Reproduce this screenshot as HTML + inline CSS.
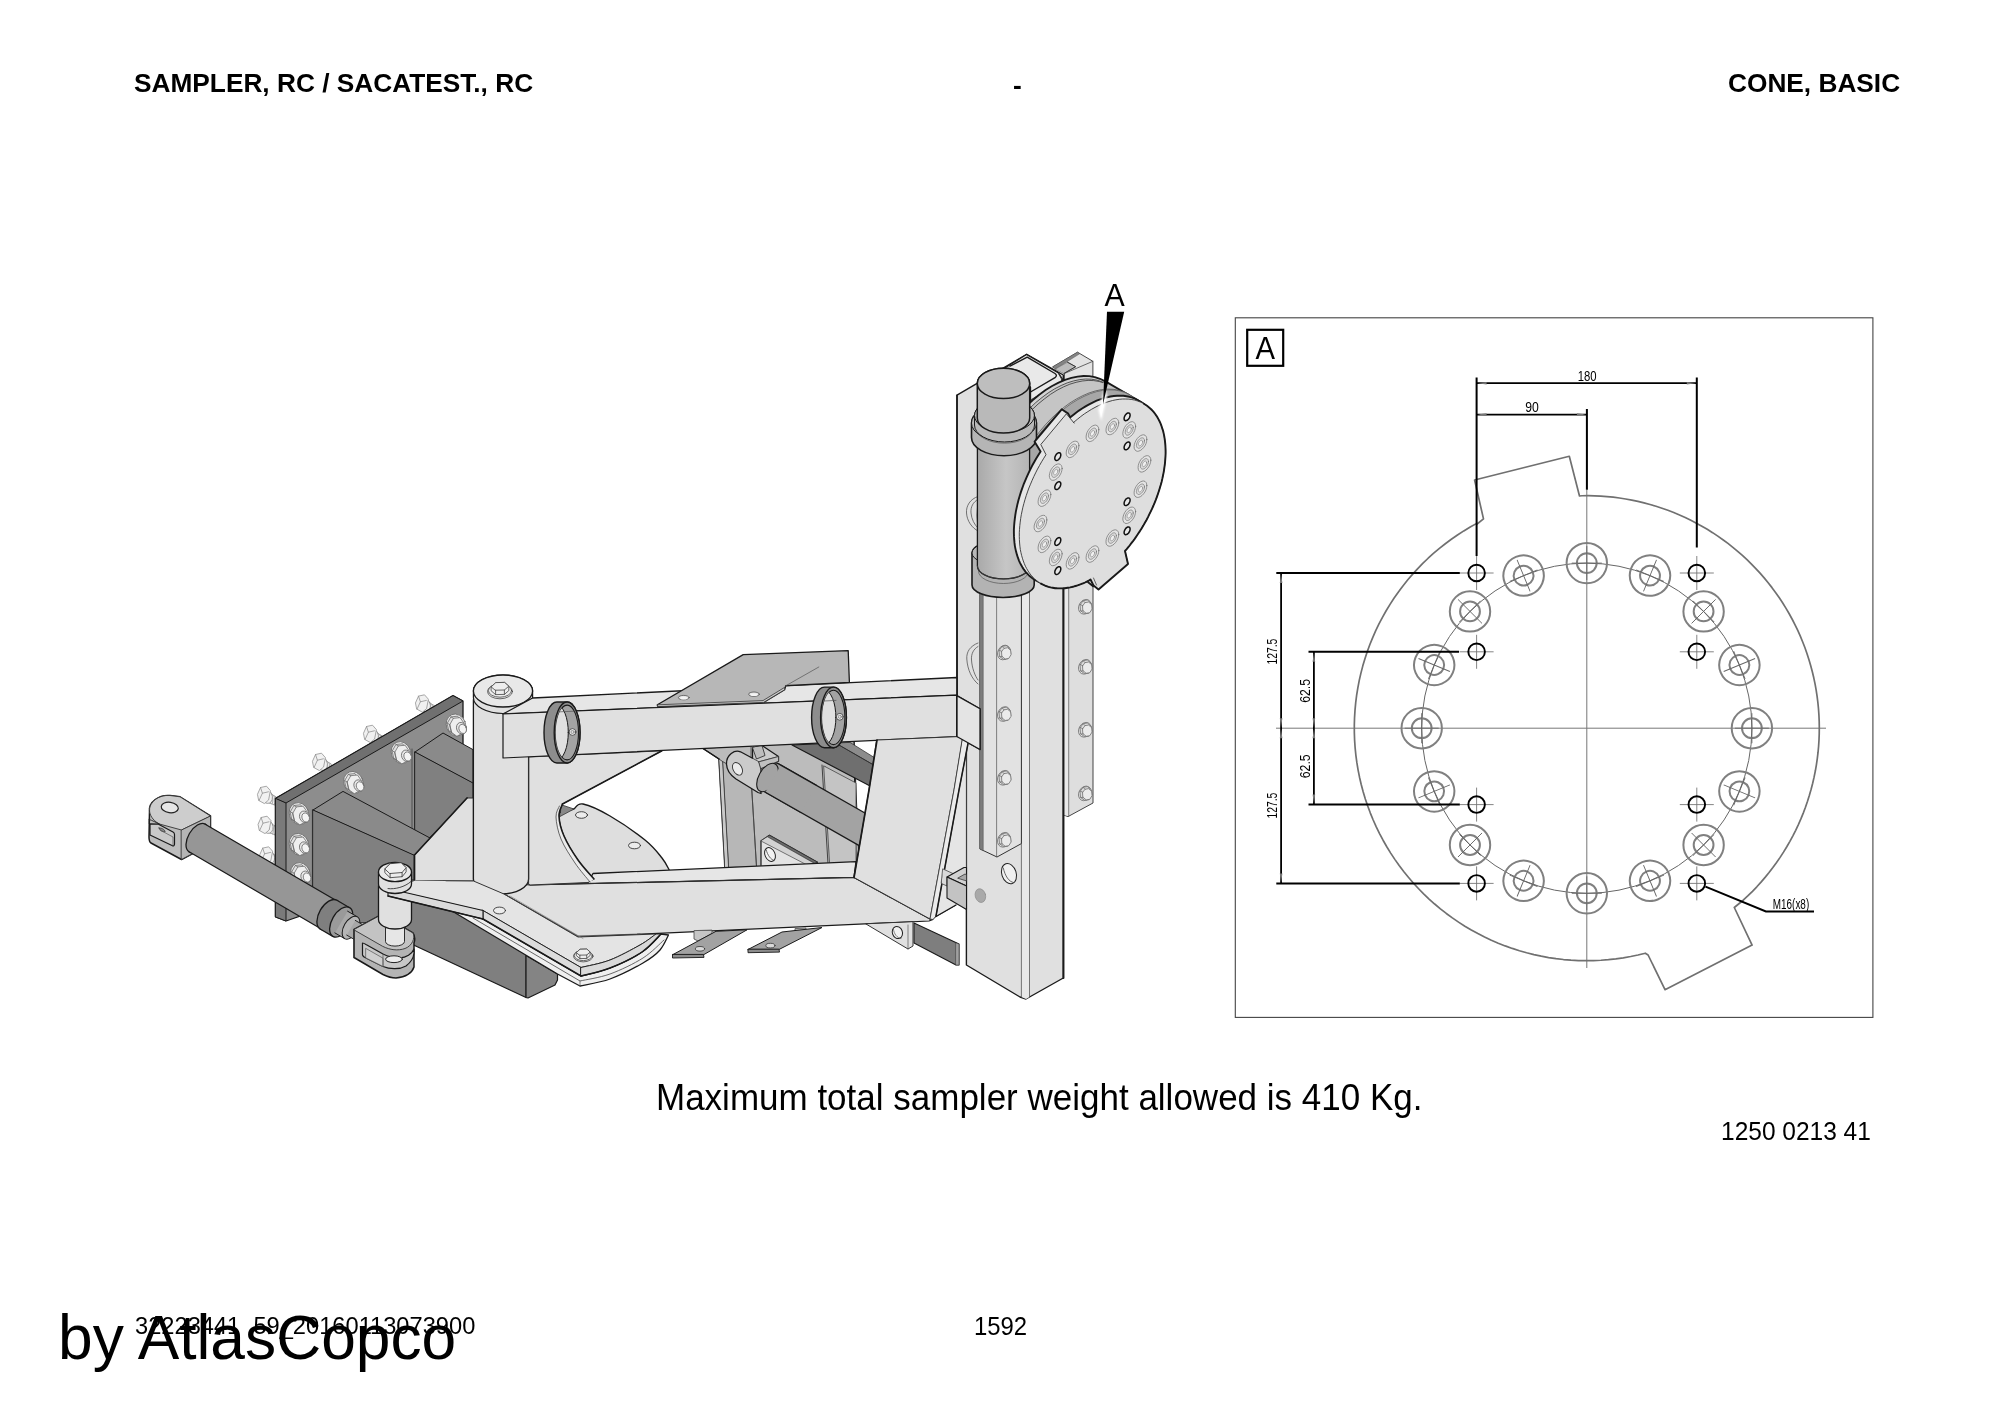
<!DOCTYPE html>
<html><head><meta charset="utf-8"><title>Sampler RC</title>
<style>
html,body{margin:0;padding:0;background:#fff;}
body{width:2000px;height:1414px;position:relative;overflow:hidden;font-family:"Liberation Sans",sans-serif;color:#000;}
.t{position:absolute;white-space:nowrap;line-height:1;will-change:transform;}
#art{will-change:transform;}
#art{position:absolute;left:0;top:0;}
</style></head><body>
<svg id="art" width="2000" height="1414" viewBox="0 0 2000 1414" font-family="Liberation Sans, sans-serif">
<!-- ILLUSTRATION START -->
<g id="illus" stroke-linejoin="round" stroke-linecap="round">
<defs><linearGradient id="gcyl" x1="0" x2="1" y1="0" y2="0"><stop offset="0" stop-color="#a9a9a9"/><stop offset="0.55" stop-color="#c6c6c6"/><stop offset="1" stop-color="#b4b4b4"/></linearGradient><radialGradient id="glow" cx="0.5" cy="0.5" r="0.5"><stop offset="0" stop-color="#fff" stop-opacity="1"/><stop offset="1" stop-color="#fff" stop-opacity="0"/></radialGradient><linearGradient id="gpost" x1="0" x2="1" y1="0" y2="0"><stop offset="0" stop-color="#e6e6e6"/><stop offset="1" stop-color="#dadada"/></linearGradient></defs>
<path d="M1063.5,540 L1093,540 L1093,803 L1068,816.6 L1063.5,815 Z" fill="#dedede" stroke="#444" stroke-width="1.0" />
<path d="M1063.5,540 L1068.7,540 L1068.7,816 L1063.5,815 Z" fill="#e9e9e9" stroke="none" stroke-width="1.1" />
<path d="M1068.7,540 L1068.7,816.2" fill="none" stroke="#555" stroke-width="0.7" />
<path d="M957,395.2 L1026.7,354.3 L1063.3,375 L1063.3,978 L1026,999 L1020,997 L966.4,965 L966.4,743 L957,737 Z" fill="#e0e0e0" stroke="#1a1a1a" stroke-width="1.4" />
<path d="M1021.4,560 L1021.4,997 L1026,999 L1029.5,997 L1029.5,560 Z" fill="#e9e9e9" stroke="none" stroke-width="1.1" />
<path d="M1021.4,560 V997 M1029.5,560 V997" fill="none" stroke="#444" stroke-width="0.7" />
<path d="M957,395.2 L957,737" fill="none" stroke="#1a1a1a" stroke-width="1.6" />
<path d="M1063.5,540 V978" fill="none" stroke="#1a1a1a" stroke-width="1.9" />
<path d="M978,496.5 C970,499 966,506 966.5,513 C967,521 972,528 978,531" fill="none" stroke="#555" stroke-width="0.8" />
<path d="M978,499.5 C973,502 970.5,507 971,513 C971.5,519 974.5,525 978,528" fill="none" stroke="#555" stroke-width="0.8" />
<path d="M978,643 C970,646 966.3,652 966.8,659 C967.5,670 972,679 978,684" fill="none" stroke="#555" stroke-width="0.8" />
<path d="M978,646.5 C973.5,649 971,654 971.5,660 C972,668 975,676 978,680" fill="none" stroke="#555" stroke-width="0.8" />
<path d="M980,560 L980,849 L997,857 L1021.4,843.6 L1021.4,560 Z" fill="#e2e2e2" stroke="#333" stroke-width="1.0" />
<path d="M980,560 L983.2,560 L983.2,850.5 L980,849 Z" fill="#7d7d7d" stroke="#555" stroke-width="0.6" />
<path d="M996.6,560 V856.8" fill="none" stroke="#555" stroke-width="0.7" />
<g transform="translate(1004.6,652.7) rotate(0) scale(0.95)" stroke="#6a6a6a" stroke-width="0.79" fill="#ececec"><ellipse cx="-0.7" cy="-0.2" rx="6.4" ry="8.0" transform="rotate(28 -0.7 -0.2)" fill="#e4e4e4"/><path d="M-5.6,-2.6 L-2.6,-6.6 L1.8,-7.4 L6.0,-4.0 L6.6,1.4 L3.6,6.4 L-0.8,7.2 L-5.0,4.2 Z" fill="#dcdcdc"/><path d="M-3.0,-1.4 L-0.6,-4.6 L3.2,-5.2 L6.4,-2.4 L6.8,2.2 L4.4,6.0 L0.6,6.6 L-2.6,4.0 Z" fill="#ebebeb"/><path d="M-5.6,-2.6 L-3.0,-1.4 M-5.0,4.2 L-2.6,4.0 M-2.6,-6.6 L-0.6,-4.6" fill="none"/></g>
<g transform="translate(1004.6,714.2) rotate(0) scale(0.95)" stroke="#6a6a6a" stroke-width="0.79" fill="#ececec"><ellipse cx="-0.7" cy="-0.2" rx="6.4" ry="8.0" transform="rotate(28 -0.7 -0.2)" fill="#e4e4e4"/><path d="M-5.6,-2.6 L-2.6,-6.6 L1.8,-7.4 L6.0,-4.0 L6.6,1.4 L3.6,6.4 L-0.8,7.2 L-5.0,4.2 Z" fill="#dcdcdc"/><path d="M-3.0,-1.4 L-0.6,-4.6 L3.2,-5.2 L6.4,-2.4 L6.8,2.2 L4.4,6.0 L0.6,6.6 L-2.6,4.0 Z" fill="#ebebeb"/><path d="M-5.6,-2.6 L-3.0,-1.4 M-5.0,4.2 L-2.6,4.0 M-2.6,-6.6 L-0.6,-4.6" fill="none"/></g>
<g transform="translate(1004.6,778.0) rotate(0) scale(0.95)" stroke="#6a6a6a" stroke-width="0.79" fill="#ececec"><ellipse cx="-0.7" cy="-0.2" rx="6.4" ry="8.0" transform="rotate(28 -0.7 -0.2)" fill="#e4e4e4"/><path d="M-5.6,-2.6 L-2.6,-6.6 L1.8,-7.4 L6.0,-4.0 L6.6,1.4 L3.6,6.4 L-0.8,7.2 L-5.0,4.2 Z" fill="#dcdcdc"/><path d="M-3.0,-1.4 L-0.6,-4.6 L3.2,-5.2 L6.4,-2.4 L6.8,2.2 L4.4,6.0 L0.6,6.6 L-2.6,4.0 Z" fill="#ebebeb"/><path d="M-5.6,-2.6 L-3.0,-1.4 M-5.0,4.2 L-2.6,4.0 M-2.6,-6.6 L-0.6,-4.6" fill="none"/></g>
<g transform="translate(1004.6,840.0) rotate(0) scale(0.95)" stroke="#6a6a6a" stroke-width="0.79" fill="#ececec"><ellipse cx="-0.7" cy="-0.2" rx="6.4" ry="8.0" transform="rotate(28 -0.7 -0.2)" fill="#e4e4e4"/><path d="M-5.6,-2.6 L-2.6,-6.6 L1.8,-7.4 L6.0,-4.0 L6.6,1.4 L3.6,6.4 L-0.8,7.2 L-5.0,4.2 Z" fill="#dcdcdc"/><path d="M-3.0,-1.4 L-0.6,-4.6 L3.2,-5.2 L6.4,-2.4 L6.8,2.2 L4.4,6.0 L0.6,6.6 L-2.6,4.0 Z" fill="#ebebeb"/><path d="M-5.6,-2.6 L-3.0,-1.4 M-5.0,4.2 L-2.6,4.0 M-2.6,-6.6 L-0.6,-4.6" fill="none"/></g>
<g transform="translate(1085.6,607.0) rotate(0) scale(0.95)" stroke="#6a6a6a" stroke-width="0.79" fill="#ececec"><ellipse cx="-0.7" cy="-0.2" rx="6.4" ry="8.0" transform="rotate(28 -0.7 -0.2)" fill="#e4e4e4"/><path d="M-5.6,-2.6 L-2.6,-6.6 L1.8,-7.4 L6.0,-4.0 L6.6,1.4 L3.6,6.4 L-0.8,7.2 L-5.0,4.2 Z" fill="#dcdcdc"/><path d="M-3.0,-1.4 L-0.6,-4.6 L3.2,-5.2 L6.4,-2.4 L6.8,2.2 L4.4,6.0 L0.6,6.6 L-2.6,4.0 Z" fill="#ebebeb"/><path d="M-5.6,-2.6 L-3.0,-1.4 M-5.0,4.2 L-2.6,4.0 M-2.6,-6.6 L-0.6,-4.6" fill="none"/></g>
<g transform="translate(1085.6,667.0) rotate(0) scale(0.95)" stroke="#6a6a6a" stroke-width="0.79" fill="#ececec"><ellipse cx="-0.7" cy="-0.2" rx="6.4" ry="8.0" transform="rotate(28 -0.7 -0.2)" fill="#e4e4e4"/><path d="M-5.6,-2.6 L-2.6,-6.6 L1.8,-7.4 L6.0,-4.0 L6.6,1.4 L3.6,6.4 L-0.8,7.2 L-5.0,4.2 Z" fill="#dcdcdc"/><path d="M-3.0,-1.4 L-0.6,-4.6 L3.2,-5.2 L6.4,-2.4 L6.8,2.2 L4.4,6.0 L0.6,6.6 L-2.6,4.0 Z" fill="#ebebeb"/><path d="M-5.6,-2.6 L-3.0,-1.4 M-5.0,4.2 L-2.6,4.0 M-2.6,-6.6 L-0.6,-4.6" fill="none"/></g>
<g transform="translate(1085.6,730.0) rotate(0) scale(0.95)" stroke="#6a6a6a" stroke-width="0.79" fill="#ececec"><ellipse cx="-0.7" cy="-0.2" rx="6.4" ry="8.0" transform="rotate(28 -0.7 -0.2)" fill="#e4e4e4"/><path d="M-5.6,-2.6 L-2.6,-6.6 L1.8,-7.4 L6.0,-4.0 L6.6,1.4 L3.6,6.4 L-0.8,7.2 L-5.0,4.2 Z" fill="#dcdcdc"/><path d="M-3.0,-1.4 L-0.6,-4.6 L3.2,-5.2 L6.4,-2.4 L6.8,2.2 L4.4,6.0 L0.6,6.6 L-2.6,4.0 Z" fill="#ebebeb"/><path d="M-5.6,-2.6 L-3.0,-1.4 M-5.0,4.2 L-2.6,4.0 M-2.6,-6.6 L-0.6,-4.6" fill="none"/></g>
<g transform="translate(1085.6,793.6) rotate(0) scale(0.95)" stroke="#6a6a6a" stroke-width="0.79" fill="#ececec"><ellipse cx="-0.7" cy="-0.2" rx="6.4" ry="8.0" transform="rotate(28 -0.7 -0.2)" fill="#e4e4e4"/><path d="M-5.6,-2.6 L-2.6,-6.6 L1.8,-7.4 L6.0,-4.0 L6.6,1.4 L3.6,6.4 L-0.8,7.2 L-5.0,4.2 Z" fill="#dcdcdc"/><path d="M-3.0,-1.4 L-0.6,-4.6 L3.2,-5.2 L6.4,-2.4 L6.8,2.2 L4.4,6.0 L0.6,6.6 L-2.6,4.0 Z" fill="#ebebeb"/><path d="M-5.6,-2.6 L-3.0,-1.4 M-5.0,4.2 L-2.6,4.0 M-2.6,-6.6 L-0.6,-4.6" fill="none"/></g>
<ellipse cx="1009.0" cy="873.6" rx="7.2" ry="10.4" transform="rotate(-18 1009.0 873.6)" fill="#f1f1f1" stroke="#222" stroke-width="1.0"/>
<path d="M1003.3,868 C1005,876 1009,882 1013.6,882.5" fill="none" stroke="#444" stroke-width="0.8" />
<ellipse cx="980.4" cy="895.6" rx="5.2" ry="7.0" transform="rotate(-15 980.4 895.6)" fill="#a9a9a9" stroke="#888" stroke-width="0.6"/>
<path d="M 1004.0,368.5 L 1026.5,354.5 L 1058.5,373.0 L 1063.0,380.0 L 1063.0,387.0 L 1030.5,404.0 L 1030.5,387.0 Z" fill="#e9e9e9" stroke="#1a1a1a" stroke-width="1.3" />
<path d="M 1010.0,366.2 L 1027.2,357.2 L 1055.0,373.5 Q 1057.8,375.6 1055.0,377.7 L 1030.5,392.0" fill="none" stroke="#1a1a1a" stroke-width="1.4" />
<path d="M 1030.5,400.0 L 1061.5,382.0 L 1061.5,379.0 L 1058.5,373.5" fill="none" stroke="#333" stroke-width="0.9" />
<path d="M1053,366.7 L1077.5,352.2 L1092.9,361.3 L1092.9,376.2 L1064.4,384 L1064.4,373.5 Z" fill="#e3e3e3" stroke="#333" stroke-width="0.9" />
<path d="M1064.4,373.5 L1092.9,361.3" fill="none" stroke="#444" stroke-width="0.8" />
<path d="M1053,366.7 L1077.5,352.2 L1079.6,353.8 L1055.3,369 Z" fill="#848484" stroke="#555" stroke-width="0.5" />
<path d="M1055.3,369 L1067.5,362.2 L1075.7,366.7 L1063.9,373.5 Z" fill="#bcbcbc" stroke="#666" stroke-width="0.6" />
<path d="M1067.5,362.2 L1075.7,366.7 L1063.9,373.5" fill="none" stroke="#333" stroke-width="1.0" />
<path d="M1126.6,429.7 L1126.3,437.4 L1125.5,445.4 L1124.1,453.6 L1122.1,461.9 L1119.6,470.3 L1116.6,478.7 L1113.1,487.1 L1109.2,495.3 L1104.8,503.4 L1100.0,511.3 L1094.8,518.8 L1089.3,526.0 L1083.6,532.8 L1077.6,539.2 L1071.4,545.0 L1065.0,550.3 L1058.6,554.9 L1052.1,559.0 L1045.6,562.4 L1039.2,565.1 L1032.8,567.1 L1026.6,568.4 L1020.6,569.0 L1014.9,568.8 L1009.4,567.9 L1004.2,566.2 L999.4,563.9 L995.0,560.9 L991.1,557.1 L987.6,552.8 L984.6,547.8 L982.1,542.3 L980.1,536.2 L978.7,529.6 L977.9,522.6 L977.6,515.3 L977.9,507.6 L978.7,499.6 L980.1,491.4 L982.1,483.1 L984.6,474.7 L987.6,466.3 L991.1,457.9 L995.0,449.7 L999.4,441.6 L1004.2,433.7 L1009.4,426.2 L1014.9,419.0 L1020.6,412.2 L1026.6,405.8 L1032.8,400.0 L1039.2,394.7 L1045.6,390.1 L1052.1,386.0 L1058.6,382.6 L1065.0,379.9 L1071.4,377.9 L1077.6,376.6 L1083.6,376.0 L1089.3,376.2 L1094.8,377.1 L1100.0,378.8 L1104.8,381.1 L1109.2,384.1 L1113.1,387.9 L1116.6,392.2 L1119.6,397.2 L1122.1,402.7 L1124.1,408.8 L1125.5,415.4 L1126.3,422.4 L1126.6,429.7 Z" fill="#d4d4d4" stroke="#1a1a1a" stroke-width="1.8" />
<path d="M1128.0,431.9 L1127.8,439.5 L1126.9,447.3 L1125.5,455.4 L1123.6,463.6 L1121.2,471.8 L1118.2,480.1 L1114.8,488.4 L1110.9,496.5 L1106.6,504.4 L1101.8,512.2 L1096.8,519.6 L1091.4,526.7 L1085.7,533.4 L1079.8,539.6 L1073.7,545.4 L1067.4,550.5 L1061.1,555.2 L1054.7,559.2 L1048.3,562.5 L1042.0,565.2 L1035.7,567.1 L1029.6,568.4 L1023.7,569.0 L1018.0,568.8 L1012.6,567.9 L1007.6,566.3 L1002.8,564.0 L998.5,561.0 L994.6,557.3 L991.2,553.0 L988.2,548.1 L985.8,542.7 L983.9,536.7 L982.5,530.2 L981.6,523.4 L981.4,516.1 L981.6,508.5 L982.5,500.7 L983.9,492.6 L985.8,484.4 L988.2,476.2 L991.2,467.9 L994.6,459.6 L998.5,451.5 L1002.8,443.6 L1007.6,435.8 L1012.6,428.4 L1018.0,421.3 L1023.7,414.6 L1029.6,408.4 L1035.7,402.6 L1042.0,397.5 L1048.3,392.8 L1054.7,388.8 L1061.1,385.5 L1067.4,382.8 L1073.7,380.9 L1079.8,379.6 L1085.7,379.0 L1091.4,379.2 L1096.8,380.1 L1101.8,381.7 L1106.6,384.0 L1110.9,387.0 L1114.8,390.7 L1118.2,395.0 L1121.2,399.9 L1123.6,405.3 L1125.5,411.3 L1126.9,417.8 L1127.8,424.6 L1128.0,431.9 Z" fill="#c5c5c5" stroke="#333" stroke-width="0.8" />
<path d="M1130.4,433.3 L1130.2,440.9 L1129.3,448.7 L1127.9,456.8 L1126.0,465.0 L1123.6,473.2 L1120.6,481.5 L1117.2,489.8 L1113.3,497.9 L1109.0,505.8 L1104.2,513.6 L1099.2,521.0 L1093.8,528.1 L1088.1,534.8 L1082.2,541.0 L1076.1,546.8 L1069.8,551.9 L1063.5,556.6 L1057.1,560.6 L1050.7,563.9 L1044.4,566.6 L1038.1,568.5 L1032.0,569.8 L1026.1,570.4 L1020.4,570.2 L1015.0,569.3 L1010.0,567.7 L1005.2,565.4 L1000.9,562.4 L997.0,558.7 L993.6,554.4 L990.6,549.5 L988.2,544.1 L986.3,538.1 L984.9,531.6 L984.0,524.8 L983.8,517.5 L984.0,509.9 L984.9,502.1 L986.3,494.0 L988.2,485.8 L990.6,477.6 L993.6,469.3 L997.0,461.0 L1000.9,452.9 L1005.2,445.0 L1010.0,437.2 L1015.0,429.8 L1020.4,422.7 L1026.1,416.0 L1032.0,409.8 L1038.1,404.0 L1044.4,398.9 L1050.7,394.2 L1057.1,390.2 L1063.5,386.9 L1069.8,384.2 L1076.1,382.3 L1082.2,381.0 L1088.1,380.4 L1093.8,380.6 L1099.2,381.5 L1104.2,383.1 L1109.0,385.4 L1113.3,388.4 L1117.2,392.1 L1120.6,396.4 L1123.6,401.3 L1126.0,406.7 L1127.9,412.7 L1129.3,419.2 L1130.2,426.0 L1130.4,433.3 Z" fill="#c5c5c5" stroke="#333" stroke-width="0.8" />
<path d="M1104.5,380.9 L1143.9,403.8 L1092.5,493.7 L1052.1,472.5 Z" fill="#c5c5c5" stroke="none" stroke-width="1.1" />
<path d="M1104.5,380.9 L1143.9,403.8" fill="none" stroke="#1a1a1a" stroke-width="1.8" />
<path d="M1150.0,442.1 L1149.7,449.7 L1148.9,457.6 L1147.5,465.6 L1145.6,473.8 L1143.1,482.1 L1140.1,490.4 L1136.7,498.7 L1132.8,506.8 L1128.4,514.8 L1123.7,522.6 L1118.6,530.0 L1113.2,537.1 L1107.5,543.8 L1101.6,550.1 L1095.5,555.8 L1089.2,561.1 L1082.9,565.7 L1076.5,569.7 L1070.0,573.0 L1063.7,575.7 L1057.4,577.7 L1051.3,579.0 L1045.4,579.5 L1039.7,579.3 L1034.3,578.4 L1029.2,576.8 L1024.5,574.5 L1020.1,571.5 L1016.2,567.8 L1012.8,563.5 L1009.8,558.6 L1007.3,553.2 L1005.4,547.2 L1004.0,540.7 L1003.2,533.8 L1002.9,526.5 L1003.2,518.9 L1004.0,511.0 L1005.4,503.0 L1007.3,494.8 L1009.8,486.5 L1012.8,478.2 L1016.2,469.9 L1020.1,461.8 L1024.5,453.8 L1029.2,446.0 L1034.3,438.6 L1039.7,431.5 L1045.4,424.8 L1051.3,418.5 L1057.4,412.8 L1063.7,407.5 L1070.0,402.9 L1076.5,398.9 L1082.9,395.6 L1089.2,392.9 L1095.5,390.9 L1101.6,389.6 L1107.5,389.1 L1113.2,389.3 L1118.6,390.2 L1123.7,391.8 L1128.4,394.1 L1132.8,397.1 L1136.7,400.8 L1140.1,405.1 L1143.1,410.0 L1145.6,415.4 L1147.5,421.4 L1148.9,427.9 L1149.7,434.8 L1150.0,442.1 Z" fill="#c5c5c5" stroke="#444" stroke-width="0.7" />
<path d="M1151.2,442.8 L1150.9,450.4 L1150.1,458.3 L1148.7,466.3 L1146.8,474.5 L1144.3,482.8 L1141.3,491.1 L1137.9,499.4 L1134.0,507.5 L1129.6,515.5 L1124.9,523.3 L1119.8,530.7 L1114.4,537.8 L1108.7,544.5 L1102.8,550.8 L1096.7,556.5 L1090.4,561.8 L1084.1,566.4 L1077.7,570.4 L1071.2,573.7 L1064.9,576.4 L1058.6,578.4 L1052.5,579.7 L1046.6,580.2 L1040.9,580.0 L1035.5,579.1 L1030.4,577.5 L1025.7,575.2 L1021.3,572.2 L1017.4,568.5 L1014.0,564.2 L1011.0,559.3 L1008.5,553.9 L1006.6,547.9 L1005.2,541.4 L1004.4,534.5 L1004.1,527.2 L1004.4,519.6 L1005.2,511.7 L1006.6,503.7 L1008.5,495.5 L1011.0,487.2 L1014.0,478.9 L1017.4,470.6 L1021.3,462.5 L1025.7,454.5 L1030.4,446.7 L1035.5,439.3 L1040.9,432.2 L1046.6,425.5 L1052.5,419.2 L1058.6,413.5 L1064.9,408.2 L1071.2,403.6 L1077.7,399.6 L1084.1,396.3 L1090.4,393.6 L1096.7,391.6 L1102.8,390.3 L1108.7,389.8 L1114.4,390.0 L1119.8,390.9 L1124.9,392.5 L1129.6,394.8 L1134.0,397.8 L1137.9,401.5 L1141.3,405.8 L1144.3,410.7 L1146.8,416.1 L1148.7,422.1 L1150.1,428.6 L1150.9,435.5 L1151.2,442.8 Z" fill="#a7a7a7" stroke="#555" stroke-width="0.7" />
<path d="M972.0,553.0 L972.0,585.0 A31.1,12.5 0 0 0 1034.2,585.0 L1034.2,553.0 A31.1,12.5 0 0 0 972.0,553.0 Z" fill="#b3b3b3" stroke="#1a1a1a" stroke-width="1.6" />
<ellipse cx="1003.1" cy="553.0" rx="31.1" ry="12.5" fill="#b9b9b9" stroke="#1a1a1a" stroke-width="1.0"/>
<path d="M977.4,440.0 L977.4,566.0 A26.1,13.0 0 0 0 1029.6,566.0 L1029.6,440.0 A26.1,13.0 0 0 0 977.4,440.0 Z" fill="url(#gcyl)" stroke="#1a1a1a" stroke-width="1.3" />
<path d="M977.4,566 A26.1,13 0 0 0 1029.6,566" fill="none" stroke="#444" stroke-width="0.8" />
<path d="M978.5,571.5 A25,12 0 0 0 1028.5,571.5" fill="none" stroke="#555" stroke-width="0.7" />
<path d="M971.5,423.0 L971.5,437.5 A32.5,18.2 0 0 0 1036.5,437.5 L1036.5,423.0 A32.5,18.2 0 0 0 971.5,423.0 Z" fill="#b5b5b5" stroke="#1a1a1a" stroke-width="1.6" />
<ellipse cx="1004.0" cy="423.0" rx="32.5" ry="18.2" fill="#bcbcbc" stroke="#1a1a1a" stroke-width="1.0"/>
<path d="M974.5,415.5 L974.5,425.0 A30.0,17.0 0 0 0 1034.5,425.0 L1034.5,415.5 A30.0,17.0 0 0 0 974.5,415.5 Z" fill="#b9b9b9" stroke="#1a1a1a" stroke-width="1.0" />
<ellipse cx="1004.5" cy="415.5" rx="30.0" ry="17.0" fill="#bdbdbd" stroke="#1a1a1a" stroke-width="1.0"/>
<path d="M975.2,428.5 A29.4,16.6 0 0 0 1033.6,428.5" fill="none" stroke="#555" stroke-width="0.7" />
<path d="M977.3,383.4 L977.3,418.0 A26.2,15.1 0 0 0 1029.7,418.0 L1029.7,383.4 A26.2,15.1 0 0 0 977.3,383.4 Z" fill="#b9b9b9" stroke="#1a1a1a" stroke-width="1.5" />
<ellipse cx="1003.5" cy="383.4" rx="26.2" ry="15.1" fill="#bebebe" stroke="#1a1a1a" stroke-width="1.5"/>
<path d="M1068.5,418.9 L1071.9,416.0 L1075.4,413.2 L1078.9,410.6 L1082.5,408.3 L1086.0,406.1 L1089.6,404.1 L1093.1,402.3 L1096.6,400.7 L1100.2,399.3 L1103.6,398.2 L1107.1,397.2 L1110.5,396.5 L1113.8,396.0 L1117.1,395.7 L1120.3,395.7 L1123.4,395.8 L1126.4,396.2 L1129.4,396.8 L1132.2,397.7 L1134.9,398.7 L1137.6,400.0 L1140.1,401.5 L1142.5,403.1 L1144.7,405.0 L1146.8,407.1 L1148.8,409.4 L1150.6,411.9 L1152.3,414.6 L1153.8,417.4 L1155.2,420.4 L1156.4,423.6 L1157.5,426.9 L1158.3,430.4 L1159.0,434.1 L1159.6,437.8 L1160.0,441.7 L1160.2,445.7 L1160.2,449.8 L1160.0,454.0 L1159.7,458.3 L1159.2,462.7 L1158.6,467.1 L1157.8,471.6 L1156.8,476.1 L1155.6,480.6 L1154.3,485.2 L1152.8,489.8 L1151.2,494.4 L1149.4,499.0 L1147.5,503.6 L1145.4,508.1 L1143.2,512.6 L1140.9,517.0 L1138.4,521.4 L1135.8,525.7 L1133.1,529.9 L1130.3,534.1 L1127.4,538.1 L1124.4,542.0 L1121.3,545.8 L1119.6,547.7 L1122.6,560.7 L1093.1,586.2 L1088.1,582.2 L1085.1,576.2 L1085.1,576.4 L1082.2,577.9 L1079.2,579.3 L1076.3,580.6 L1073.4,581.7 L1070.5,582.6 L1067.6,583.4 L1064.8,584.1 L1062.0,584.6 L1059.2,584.9 L1056.5,585.1 L1053.8,585.1 L1051.2,585.0 L1048.7,584.7 L1046.2,584.3 L1043.8,583.7 L1041.4,583.0 L1039.1,582.1 L1036.9,581.0 L1034.8,579.9 L1032.8,578.5 L1030.9,577.0 L1029.0,575.4 L1027.3,573.7 L1025.6,571.8 L1024.0,569.7 L1022.6,567.6 L1021.3,565.3 L1020.0,562.9 L1018.9,560.3 L1017.9,557.7 L1017.0,554.9 L1016.2,552.1 L1015.5,549.1 L1014.9,546.1 L1014.5,542.9 L1014.2,539.7 L1014.0,536.4 L1013.9,533.0 L1013.9,529.5 L1014.1,526.0 L1014.4,522.4 L1014.8,518.8 L1015.3,515.1 L1015.9,511.4 L1016.7,507.6 L1017.5,503.9 L1018.5,500.1 L1019.6,496.2 L1020.8,492.4 L1022.1,488.6 L1023.5,484.7 L1025.1,480.9 L1026.7,477.1 L1028.4,473.3 L1030.2,469.6 L1032.1,465.8 L1034.1,462.2 L1036.2,458.5 L1038.4,454.9 L1040.6,451.4 L1034.6,441.7 L1061.7,409.3 L1068.2,413.6 L1070.2,417.4 Z" fill="#e7e7e7" stroke="#1a1a1a" stroke-width="1.9" />
<path d="M1073.9,422.2 L1077.3,419.3 L1080.8,416.5 L1084.3,413.9 L1087.9,411.6 L1091.4,409.4 L1095.0,407.4 L1098.5,405.6 L1102.0,404.0 L1105.6,402.6 L1109.0,401.5 L1112.5,400.5 L1115.9,399.8 L1119.2,399.3 L1122.5,399.0 L1125.7,399.0 L1128.8,399.1 L1131.8,399.5 L1134.8,400.1 L1137.6,401.0 L1140.3,402.0 L1143.0,403.3 L1145.5,404.8 L1147.9,406.4 L1150.1,408.3 L1152.2,410.4 L1154.2,412.7 L1156.0,415.2 L1157.7,417.9 L1159.2,420.7 L1160.6,423.7 L1161.8,426.9 L1162.9,430.2 L1163.7,433.7 L1164.4,437.4 L1165.0,441.1 L1165.4,445.0 L1165.6,449.0 L1165.6,453.1 L1165.4,457.3 L1165.1,461.6 L1164.6,466.0 L1164.0,470.4 L1163.2,474.9 L1162.2,479.4 L1161.0,483.9 L1159.7,488.5 L1158.2,493.1 L1156.6,497.7 L1154.8,502.3 L1152.9,506.9 L1150.8,511.4 L1148.6,515.9 L1146.3,520.3 L1143.8,524.7 L1141.2,529.0 L1138.5,533.2 L1135.7,537.4 L1132.8,541.4 L1129.8,545.3 L1126.7,549.1 L1125.0,551.0 L1128.0,564.0 L1098.5,589.5 L1093.5,585.5 L1090.5,579.5 L1090.5,579.7 L1087.6,581.2 L1084.6,582.6 L1081.7,583.9 L1078.8,585.0 L1075.9,585.9 L1073.0,586.7 L1070.2,587.4 L1067.4,587.9 L1064.6,588.2 L1061.9,588.4 L1059.2,588.4 L1056.6,588.3 L1054.1,588.0 L1051.6,587.6 L1049.2,587.0 L1046.8,586.3 L1044.5,585.4 L1042.3,584.3 L1040.2,583.2 L1038.2,581.8 L1036.3,580.3 L1034.4,578.7 L1032.7,577.0 L1031.0,575.1 L1029.4,573.0 L1028.0,570.9 L1026.7,568.6 L1025.4,566.2 L1024.3,563.6 L1023.3,561.0 L1022.4,558.2 L1021.6,555.4 L1020.9,552.4 L1020.3,549.4 L1019.9,546.2 L1019.6,543.0 L1019.4,539.7 L1019.3,536.3 L1019.3,532.8 L1019.5,529.3 L1019.8,525.7 L1020.2,522.1 L1020.7,518.4 L1021.3,514.7 L1022.1,510.9 L1022.9,507.2 L1023.9,503.4 L1025.0,499.5 L1026.2,495.7 L1027.5,491.9 L1028.9,488.0 L1030.5,484.2 L1032.1,480.4 L1033.8,476.6 L1035.6,472.9 L1037.5,469.1 L1039.5,465.5 L1041.6,461.8 L1043.8,458.2 L1046.0,454.7 L1040.8,444.5 L1066.4,413.8 L1074.0,422.9 Z" fill="#dedede" stroke="#333" stroke-width="0.9" />
<path d="M1143.9,403.8 L1145.5,404.8 L1147.0,405.8 L1148.5,407.0 L1150.0,408.2 L1151.4,409.5 L1152.7,410.9 L1154.0,412.4 L1155.2,414.0 L1156.3,415.6 L1157.4,417.3 L1158.4,419.1 L1159.4,421.0 L1160.3,422.9 L1161.1,424.9 L1161.8,427.0 L1162.5,429.1 L1163.2,431.3 L1163.7,433.6 L1164.2,435.9 L1164.6,438.3 L1164.9,440.7 L1165.2,443.2 L1165.4,445.7 L1165.5,448.3 L1165.6,450.9 L1165.6,453.6 L1165.5,456.3 L1165.3,459.0 L1165.1,461.8 L1164.8,464.6 L1164.4,467.4 L1164.0,470.3 L1163.5,473.1 L1162.9,476.0 L1162.3,478.9 L1161.6,481.9 L1160.8,484.8 L1159.9,487.8 L1159.0,490.7 L1158.0,493.7 L1157.0,496.6 L1155.9,499.6 L1154.7,502.6 L1153.5,505.5 L1152.2,508.4 L1150.8,511.3 L1149.4,514.2 L1148.0,517.1 L1146.5,520.0 L1144.9,522.8 L1143.3,525.6 L1141.6,528.4 L1139.9,531.1 L1138.1,533.8 L1136.3,536.5 L1134.5,539.1 L1132.6,541.7 L1130.6,544.2 L1128.7,546.7 L1126.7,549.1 L1125.0,551.0 L1128.0,564.0 L1098.5,589.5 L1093.5,585.5 L1090.5,579.5 L1090.5,579.7 L1089.2,580.4 L1087.8,581.1 L1086.4,581.8 L1085.0,582.5 L1083.7,583.1 L1082.3,583.6 L1080.9,584.2 L1079.6,584.7 L1078.2,585.2 L1076.9,585.6 L1075.5,586.0 L1074.2,586.4 L1072.9,586.8 L1071.5,587.1 L1070.2,587.4 L1068.9,587.6 L1067.6,587.8 L1066.3,588.0 L1065.0,588.2 L1063.8,588.3 L1062.5,588.4 L1061.2,588.4 L1060.0,588.4 L1058.8,588.4 L1057.5,588.4 L1056.3,588.3 L1055.1,588.2 L1054.0,588.0 L1052.8,587.8 L1051.7,587.6 L1050.5,587.4 L1049.4,587.1 L1048.3,586.8 L1047.2,586.4 L1046.1,586.0 L1045.1,585.6 L1044.0,585.1 L1043.0,584.7 L1042.0,584.2 L1041.0,583.6" fill="none" stroke="#1a1a1a" stroke-width="1.9" />
<path d="M1093.5,578 L1096.5,585" fill="none" stroke="#444" stroke-width="0.8" />
<path d="M1098.8,429.7 L1098.6,431.7 L1098.0,433.9 L1096.9,436.0 L1095.6,437.9 L1094.1,439.5 L1092.5,440.7 L1090.8,441.4 L1089.3,441.6 L1088.0,441.1 L1086.9,440.2 L1086.3,438.8 L1086.1,437.0 L1086.3,435.0 L1086.9,432.8 L1088.0,430.7 L1089.3,428.8 L1090.8,427.2 L1092.5,426.0 L1094.1,425.3 L1095.6,425.1 L1096.9,425.6 L1098.0,426.5 L1098.6,427.9 L1098.8,429.7 Z" fill="#e4e4e4" stroke="#6a6a6a" stroke-width="0.7" />
<path d="M1096.5,431.0 L1096.4,432.3 L1096.0,433.7 L1095.3,435.0 L1094.5,436.3 L1093.5,437.3 L1092.5,438.0 L1091.4,438.5 L1090.4,438.6 L1089.6,438.3 L1088.9,437.7 L1088.5,436.8 L1088.4,435.7 L1088.5,434.4 L1088.9,433.0 L1089.6,431.7 L1090.4,430.5 L1091.4,429.4 L1092.5,428.7 L1093.5,428.2 L1094.5,428.1 L1095.3,428.4 L1096.0,429.0 L1096.4,429.9 L1096.5,431.0 Z" fill="#dadada" stroke="#777" stroke-width="0.7" />
<path d="M1094.6,432.1 L1094.5,432.8 L1094.3,433.5 L1093.9,434.2 L1093.5,434.9 L1093.0,435.4 L1092.5,435.8 L1091.9,436.0 L1091.4,436.1 L1091.0,436.0 L1090.6,435.6 L1090.4,435.2 L1090.3,434.6 L1090.4,433.9 L1090.6,433.2 L1091.0,432.5 L1091.4,431.8 L1091.9,431.3 L1092.5,430.9 L1093.0,430.7 L1093.5,430.6 L1093.9,430.8 L1094.3,431.1 L1094.5,431.5 L1094.6,432.1 Z" fill="#f0f0f0" stroke="#888" stroke-width="0.7" />
<path d="M1118.7,422.9 L1118.5,424.9 L1117.8,427.1 L1116.8,429.2 L1115.5,431.1 L1114.0,432.7 L1112.3,433.9 L1110.7,434.6 L1109.2,434.7 L1107.8,434.3 L1106.8,433.4 L1106.2,432.0 L1106.0,430.2 L1106.2,428.1 L1106.8,426.0 L1107.8,423.9 L1109.2,422.0 L1110.7,420.4 L1112.3,419.2 L1114.0,418.5 L1115.5,418.3 L1116.8,418.7 L1117.8,419.7 L1118.5,421.1 L1118.7,422.9 Z" fill="#e4e4e4" stroke="#6a6a6a" stroke-width="0.7" />
<path d="M1116.4,424.2 L1116.2,425.5 L1115.8,426.9 L1115.2,428.2 L1114.4,429.4 L1113.4,430.5 L1112.3,431.2 L1111.3,431.7 L1110.3,431.8 L1109.5,431.5 L1108.8,430.9 L1108.4,430.0 L1108.3,428.9 L1108.4,427.6 L1108.8,426.2 L1109.5,424.9 L1110.3,423.6 L1111.3,422.6 L1112.3,421.8 L1113.4,421.4 L1114.4,421.3 L1115.2,421.6 L1115.8,422.2 L1116.2,423.1 L1116.4,424.2 Z" fill="#dadada" stroke="#777" stroke-width="0.7" />
<path d="M1114.5,425.3 L1114.4,426.0 L1114.2,426.7 L1113.8,427.4 L1113.4,428.1 L1112.9,428.6 L1112.3,429.0 L1111.8,429.2 L1111.3,429.3 L1110.8,429.1 L1110.5,428.8 L1110.3,428.3 L1110.2,427.7 L1110.3,427.1 L1110.5,426.4 L1110.8,425.7 L1111.3,425.0 L1111.8,424.5 L1112.3,424.1 L1112.9,423.8 L1113.4,423.8 L1113.8,423.9 L1114.2,424.2 L1114.4,424.7 L1114.5,425.3 Z" fill="#f0f0f0" stroke="#888" stroke-width="0.7" />
<path d="M1135.6,426.3 L1135.3,428.3 L1134.7,430.5 L1133.7,432.6 L1132.4,434.5 L1130.8,436.1 L1129.2,437.3 L1127.6,438.0 L1126.0,438.1 L1124.7,437.7 L1123.7,436.8 L1123.1,435.4 L1122.8,433.6 L1123.1,431.5 L1123.7,429.4 L1124.7,427.3 L1126.0,425.4 L1127.6,423.8 L1129.2,422.6 L1130.8,421.9 L1132.4,421.7 L1133.7,422.1 L1134.7,423.1 L1135.3,424.5 L1135.6,426.3 Z" fill="#e4e4e4" stroke="#6a6a6a" stroke-width="0.7" />
<path d="M1133.2,427.6 L1133.1,428.9 L1132.7,430.3 L1132.1,431.6 L1131.2,432.8 L1130.2,433.9 L1129.2,434.6 L1128.2,435.1 L1127.2,435.2 L1126.3,434.9 L1125.7,434.3 L1125.3,433.4 L1125.2,432.3 L1125.3,431.0 L1125.7,429.6 L1126.3,428.3 L1127.2,427.0 L1128.2,426.0 L1129.2,425.2 L1130.2,424.8 L1131.2,424.7 L1132.1,425.0 L1132.7,425.6 L1133.1,426.5 L1133.2,427.6 Z" fill="#dadada" stroke="#777" stroke-width="0.7" />
<path d="M1131.3,428.7 L1131.2,429.4 L1131.0,430.1 L1130.7,430.8 L1130.3,431.5 L1129.7,432.0 L1129.2,432.4 L1128.7,432.6 L1128.1,432.7 L1127.7,432.5 L1127.4,432.2 L1127.2,431.7 L1127.1,431.1 L1127.2,430.5 L1127.4,429.8 L1127.7,429.1 L1128.1,428.4 L1128.7,427.9 L1129.2,427.5 L1129.7,427.2 L1130.3,427.2 L1130.7,427.3 L1131.0,427.7 L1131.2,428.1 L1131.3,428.7 Z" fill="#f0f0f0" stroke="#888" stroke-width="0.7" />
<path d="M1146.8,439.4 L1146.6,441.4 L1146.0,443.6 L1145.0,445.7 L1143.6,447.6 L1142.1,449.2 L1140.5,450.4 L1138.8,451.1 L1137.3,451.3 L1136.0,450.8 L1135.0,449.9 L1134.3,448.5 L1134.1,446.7 L1134.3,444.7 L1135.0,442.5 L1136.0,440.4 L1137.3,438.5 L1138.8,436.9 L1140.5,435.7 L1142.1,435.0 L1143.6,434.8 L1145.0,435.2 L1146.0,436.2 L1146.6,437.6 L1146.8,439.4 Z" fill="#e4e4e4" stroke="#6a6a6a" stroke-width="0.7" />
<path d="M1144.5,440.7 L1144.4,442.0 L1144.0,443.4 L1143.3,444.7 L1142.5,445.9 L1141.5,447.0 L1140.5,447.7 L1139.4,448.2 L1138.4,448.3 L1137.6,448.0 L1137.0,447.4 L1136.6,446.5 L1136.4,445.4 L1136.6,444.1 L1137.0,442.7 L1137.6,441.4 L1138.4,440.1 L1139.4,439.1 L1140.5,438.3 L1141.5,437.9 L1142.5,437.8 L1143.3,438.1 L1144.0,438.7 L1144.4,439.6 L1144.5,440.7 Z" fill="#dadada" stroke="#777" stroke-width="0.7" />
<path d="M1142.6,441.8 L1142.5,442.5 L1142.3,443.2 L1142.0,443.9 L1141.5,444.6 L1141.0,445.1 L1140.5,445.5 L1139.9,445.7 L1139.4,445.8 L1139.0,445.6 L1138.6,445.3 L1138.4,444.9 L1138.4,444.3 L1138.4,443.6 L1138.6,442.9 L1139.0,442.2 L1139.4,441.5 L1139.9,441.0 L1140.5,440.6 L1141.0,440.4 L1141.5,440.3 L1142.0,440.4 L1142.3,440.8 L1142.5,441.2 L1142.6,441.8 Z" fill="#f0f0f0" stroke="#888" stroke-width="0.7" />
<path d="M1150.8,460.2 L1150.6,462.3 L1149.9,464.4 L1148.9,466.5 L1147.6,468.4 L1146.1,470.0 L1144.4,471.2 L1142.8,471.9 L1141.2,472.1 L1139.9,471.7 L1138.9,470.7 L1138.3,469.3 L1138.1,467.5 L1138.3,465.5 L1138.9,463.3 L1139.9,461.2 L1141.2,459.3 L1142.8,457.7 L1144.4,456.5 L1146.1,455.8 L1147.6,455.7 L1148.9,456.1 L1149.9,457.0 L1150.6,458.4 L1150.8,460.2 Z" fill="#e4e4e4" stroke="#6a6a6a" stroke-width="0.7" />
<path d="M1148.5,461.5 L1148.3,462.8 L1147.9,464.2 L1147.3,465.5 L1146.4,466.8 L1145.5,467.8 L1144.4,468.6 L1143.4,469.0 L1142.4,469.1 L1141.6,468.8 L1140.9,468.2 L1140.5,467.3 L1140.4,466.2 L1140.5,464.9 L1140.9,463.5 L1141.6,462.2 L1142.4,461.0 L1143.4,459.9 L1144.4,459.2 L1145.5,458.7 L1146.4,458.6 L1147.3,458.9 L1147.9,459.5 L1148.3,460.4 L1148.5,461.5 Z" fill="#dadada" stroke="#777" stroke-width="0.7" />
<path d="M1146.5,462.6 L1146.5,463.3 L1146.3,464.0 L1145.9,464.7 L1145.5,465.4 L1145.0,465.9 L1144.4,466.3 L1143.9,466.6 L1143.4,466.6 L1142.9,466.5 L1142.6,466.1 L1142.4,465.7 L1142.3,465.1 L1142.4,464.4 L1142.6,463.7 L1142.9,463.0 L1143.4,462.3 L1143.9,461.8 L1144.4,461.4 L1145.0,461.2 L1145.5,461.1 L1145.9,461.3 L1146.3,461.6 L1146.5,462.1 L1146.5,462.6 Z" fill="#f0f0f0" stroke="#888" stroke-width="0.7" />
<path d="M1146.8,485.6 L1146.6,487.6 L1146.0,489.8 L1145.0,491.9 L1143.6,493.8 L1142.1,495.4 L1140.5,496.6 L1138.8,497.3 L1137.3,497.4 L1136.0,497.0 L1135.0,496.1 L1134.3,494.7 L1134.1,492.9 L1134.3,490.8 L1135.0,488.7 L1136.0,486.6 L1137.3,484.7 L1138.8,483.0 L1140.5,481.9 L1142.1,481.2 L1143.6,481.0 L1145.0,481.4 L1146.0,482.4 L1146.6,483.8 L1146.8,485.6 Z" fill="#e4e4e4" stroke="#6a6a6a" stroke-width="0.7" />
<path d="M1144.5,486.9 L1144.4,488.2 L1144.0,489.6 L1143.3,490.9 L1142.5,492.1 L1141.5,493.2 L1140.5,493.9 L1139.4,494.4 L1138.4,494.5 L1137.6,494.2 L1137.0,493.6 L1136.6,492.7 L1136.4,491.5 L1136.6,490.3 L1137.0,488.9 L1137.6,487.6 L1138.4,486.3 L1139.4,485.3 L1140.5,484.5 L1141.5,484.1 L1142.5,484.0 L1143.3,484.3 L1144.0,484.9 L1144.4,485.8 L1144.5,486.9 Z" fill="#dadada" stroke="#777" stroke-width="0.7" />
<path d="M1142.6,488.0 L1142.5,488.7 L1142.3,489.4 L1142.0,490.1 L1141.5,490.8 L1141.0,491.3 L1140.5,491.7 L1139.9,491.9 L1139.4,492.0 L1139.0,491.8 L1138.6,491.5 L1138.4,491.0 L1138.4,490.4 L1138.4,489.8 L1138.6,489.1 L1139.0,488.4 L1139.4,487.7 L1139.9,487.2 L1140.5,486.8 L1141.0,486.5 L1141.5,486.5 L1142.0,486.6 L1142.3,486.9 L1142.5,487.4 L1142.6,488.0 Z" fill="#f0f0f0" stroke="#888" stroke-width="0.7" />
<path d="M1135.6,511.6 L1135.3,513.7 L1134.7,515.8 L1133.7,517.9 L1132.4,519.8 L1130.8,521.5 L1129.2,522.6 L1127.6,523.3 L1126.0,523.5 L1124.7,523.1 L1123.7,522.1 L1123.1,520.7 L1122.8,518.9 L1123.1,516.9 L1123.7,514.7 L1124.7,512.6 L1126.0,510.7 L1127.6,509.1 L1129.2,507.9 L1130.8,507.2 L1132.4,507.1 L1133.7,507.5 L1134.7,508.4 L1135.3,509.8 L1135.6,511.6 Z" fill="#e4e4e4" stroke="#6a6a6a" stroke-width="0.7" />
<path d="M1133.2,513.0 L1133.1,514.2 L1132.7,515.6 L1132.1,517.0 L1131.2,518.2 L1130.2,519.2 L1129.2,520.0 L1128.2,520.4 L1127.2,520.5 L1126.3,520.2 L1125.7,519.6 L1125.3,518.7 L1125.2,517.6 L1125.3,516.3 L1125.7,514.9 L1126.3,513.6 L1127.2,512.4 L1128.2,511.3 L1129.2,510.6 L1130.2,510.1 L1131.2,510.0 L1132.1,510.3 L1132.7,510.9 L1133.1,511.8 L1133.2,513.0 Z" fill="#dadada" stroke="#777" stroke-width="0.7" />
<path d="M1131.3,514.1 L1131.2,514.7 L1131.0,515.5 L1130.7,516.2 L1130.3,516.8 L1129.7,517.3 L1129.2,517.7 L1128.7,518.0 L1128.1,518.0 L1127.7,517.9 L1127.4,517.6 L1127.2,517.1 L1127.1,516.5 L1127.2,515.8 L1127.4,515.1 L1127.7,514.4 L1128.1,513.8 L1128.7,513.2 L1129.2,512.8 L1129.7,512.6 L1130.3,512.5 L1130.7,512.7 L1131.0,513.0 L1131.2,513.5 L1131.3,514.1 Z" fill="#f0f0f0" stroke="#888" stroke-width="0.7" />
<path d="M1118.7,534.4 L1118.5,536.4 L1117.8,538.6 L1116.8,540.7 L1115.5,542.6 L1114.0,544.2 L1112.3,545.4 L1110.7,546.1 L1109.2,546.2 L1107.8,545.8 L1106.8,544.9 L1106.2,543.5 L1106.0,541.7 L1106.2,539.6 L1106.8,537.5 L1107.8,535.4 L1109.2,533.5 L1110.7,531.9 L1112.3,530.7 L1114.0,530.0 L1115.5,529.8 L1116.8,530.2 L1117.8,531.2 L1118.5,532.6 L1118.7,534.4 Z" fill="#e4e4e4" stroke="#6a6a6a" stroke-width="0.7" />
<path d="M1116.4,535.7 L1116.2,537.0 L1115.8,538.4 L1115.2,539.7 L1114.4,540.9 L1113.4,542.0 L1112.3,542.7 L1111.3,543.2 L1110.3,543.3 L1109.5,543.0 L1108.8,542.4 L1108.4,541.5 L1108.3,540.4 L1108.4,539.1 L1108.8,537.7 L1109.5,536.4 L1110.3,535.1 L1111.3,534.1 L1112.3,533.3 L1113.4,532.9 L1114.4,532.8 L1115.2,533.1 L1115.8,533.7 L1116.2,534.6 L1116.4,535.7 Z" fill="#dadada" stroke="#777" stroke-width="0.7" />
<path d="M1114.5,536.8 L1114.4,537.5 L1114.2,538.2 L1113.8,538.9 L1113.4,539.6 L1112.9,540.1 L1112.3,540.5 L1111.8,540.7 L1111.3,540.8 L1110.8,540.6 L1110.5,540.3 L1110.3,539.8 L1110.2,539.2 L1110.3,538.6 L1110.5,537.9 L1110.8,537.2 L1111.3,536.5 L1111.8,536.0 L1112.3,535.6 L1112.9,535.3 L1113.4,535.3 L1113.8,535.4 L1114.2,535.8 L1114.4,536.2 L1114.5,536.8 Z" fill="#f0f0f0" stroke="#888" stroke-width="0.7" />
<path d="M1098.8,550.4 L1098.6,552.4 L1098.0,554.6 L1096.9,556.7 L1095.6,558.6 L1094.1,560.2 L1092.5,561.4 L1090.8,562.1 L1089.3,562.3 L1088.0,561.8 L1086.9,560.9 L1086.3,559.5 L1086.1,557.7 L1086.3,555.7 L1086.9,553.5 L1088.0,551.4 L1089.3,549.5 L1090.8,547.9 L1092.5,546.7 L1094.1,546.0 L1095.6,545.8 L1096.9,546.3 L1098.0,547.2 L1098.6,548.6 L1098.8,550.4 Z" fill="#e4e4e4" stroke="#6a6a6a" stroke-width="0.7" />
<path d="M1096.5,551.7 L1096.4,553.0 L1096.0,554.4 L1095.3,555.7 L1094.5,556.9 L1093.5,558.0 L1092.5,558.7 L1091.4,559.2 L1090.4,559.3 L1089.6,559.0 L1088.9,558.4 L1088.5,557.5 L1088.4,556.4 L1088.5,555.1 L1088.9,553.7 L1089.6,552.4 L1090.4,551.1 L1091.4,550.1 L1092.5,549.4 L1093.5,548.9 L1094.5,548.8 L1095.3,549.1 L1096.0,549.7 L1096.4,550.6 L1096.5,551.7 Z" fill="#dadada" stroke="#777" stroke-width="0.7" />
<path d="M1094.6,552.8 L1094.5,553.5 L1094.3,554.2 L1093.9,554.9 L1093.5,555.6 L1093.0,556.1 L1092.5,556.5 L1091.9,556.7 L1091.4,556.8 L1091.0,556.6 L1090.6,556.3 L1090.4,555.9 L1090.3,555.3 L1090.4,554.6 L1090.6,553.9 L1091.0,553.2 L1091.4,552.5 L1091.9,552.0 L1092.5,551.6 L1093.0,551.4 L1093.5,551.3 L1093.9,551.4 L1094.3,551.8 L1094.5,552.2 L1094.6,552.8 Z" fill="#f0f0f0" stroke="#888" stroke-width="0.7" />
<path d="M1078.9,557.2 L1078.7,559.3 L1078.1,561.4 L1077.1,563.5 L1075.7,565.4 L1074.2,567.0 L1072.6,568.2 L1070.9,568.9 L1069.4,569.1 L1068.1,568.7 L1067.1,567.7 L1066.4,566.3 L1066.2,564.5 L1066.4,562.5 L1067.1,560.3 L1068.1,558.2 L1069.4,556.3 L1070.9,554.7 L1072.6,553.5 L1074.2,552.8 L1075.7,552.7 L1077.1,553.1 L1078.1,554.0 L1078.7,555.4 L1078.9,557.2 Z" fill="#e4e4e4" stroke="#6a6a6a" stroke-width="0.7" />
<path d="M1076.6,558.5 L1076.5,559.8 L1076.1,561.2 L1075.4,562.5 L1074.6,563.8 L1073.6,564.8 L1072.6,565.6 L1071.5,566.0 L1070.5,566.1 L1069.7,565.8 L1069.1,565.2 L1068.7,564.3 L1068.5,563.2 L1068.7,561.9 L1069.1,560.5 L1069.7,559.2 L1070.5,558.0 L1071.5,556.9 L1072.6,556.2 L1073.6,555.7 L1074.6,555.6 L1075.4,555.9 L1076.1,556.5 L1076.5,557.4 L1076.6,558.5 Z" fill="#dadada" stroke="#777" stroke-width="0.7" />
<path d="M1074.7,559.7 L1074.6,560.3 L1074.4,561.0 L1074.1,561.7 L1073.6,562.4 L1073.1,562.9 L1072.6,563.3 L1072.0,563.6 L1071.5,563.6 L1071.1,563.5 L1070.7,563.2 L1070.5,562.7 L1070.4,562.1 L1070.5,561.4 L1070.7,560.7 L1071.1,560.0 L1071.5,559.3 L1072.0,558.8 L1072.6,558.4 L1073.1,558.2 L1073.6,558.1 L1074.1,558.3 L1074.4,558.6 L1074.6,559.1 L1074.7,559.7 Z" fill="#f0f0f0" stroke="#888" stroke-width="0.7" />
<path d="M1062.1,553.8 L1061.8,555.9 L1061.2,558.0 L1060.2,560.1 L1058.9,562.0 L1057.3,563.6 L1055.7,564.8 L1054.1,565.5 L1052.5,565.7 L1051.2,565.3 L1050.2,564.3 L1049.6,562.9 L1049.3,561.1 L1049.6,559.1 L1050.2,556.9 L1051.2,554.8 L1052.5,552.9 L1054.1,551.3 L1055.7,550.1 L1057.3,549.4 L1058.9,549.3 L1060.2,549.7 L1061.2,550.6 L1061.8,552.0 L1062.1,553.8 Z" fill="#e4e4e4" stroke="#6a6a6a" stroke-width="0.7" />
<path d="M1059.7,555.1 L1059.6,556.4 L1059.2,557.8 L1058.6,559.1 L1057.7,560.4 L1056.7,561.4 L1055.7,562.2 L1054.7,562.6 L1053.7,562.7 L1052.8,562.4 L1052.2,561.8 L1051.8,560.9 L1051.7,559.8 L1051.8,558.5 L1052.2,557.1 L1052.8,555.8 L1053.7,554.6 L1054.7,553.5 L1055.7,552.8 L1056.7,552.3 L1057.7,552.2 L1058.6,552.5 L1059.2,553.1 L1059.6,554.0 L1059.7,555.1 Z" fill="#dadada" stroke="#777" stroke-width="0.7" />
<path d="M1057.8,556.3 L1057.7,556.9 L1057.5,557.6 L1057.2,558.3 L1056.8,559.0 L1056.2,559.5 L1055.7,559.9 L1055.2,560.2 L1054.6,560.2 L1054.2,560.1 L1053.9,559.7 L1053.7,559.3 L1053.6,558.7 L1053.7,558.0 L1053.9,557.3 L1054.2,556.6 L1054.6,555.9 L1055.2,555.4 L1055.7,555.0 L1056.2,554.8 L1056.8,554.7 L1057.2,554.9 L1057.5,555.2 L1057.7,555.7 L1057.8,556.3 Z" fill="#f0f0f0" stroke="#888" stroke-width="0.7" />
<path d="M1050.8,540.7 L1050.6,542.7 L1049.9,544.9 L1048.9,547.0 L1047.6,548.9 L1046.1,550.5 L1044.4,551.7 L1042.8,552.4 L1041.3,552.6 L1039.9,552.2 L1038.9,551.2 L1038.3,549.8 L1038.1,548.0 L1038.3,546.0 L1038.9,543.8 L1039.9,541.7 L1041.3,539.8 L1042.8,538.2 L1044.4,537.0 L1046.1,536.3 L1047.6,536.1 L1048.9,536.6 L1049.9,537.5 L1050.6,538.9 L1050.8,540.7 Z" fill="#e4e4e4" stroke="#6a6a6a" stroke-width="0.7" />
<path d="M1048.5,542.0 L1048.3,543.3 L1047.9,544.7 L1047.3,546.0 L1046.5,547.3 L1045.5,548.3 L1044.4,549.1 L1043.4,549.5 L1042.4,549.6 L1041.6,549.3 L1040.9,548.7 L1040.5,547.8 L1040.4,546.7 L1040.5,545.4 L1040.9,544.0 L1041.6,542.7 L1042.4,541.5 L1043.4,540.4 L1044.4,539.7 L1045.5,539.2 L1046.5,539.1 L1047.3,539.4 L1047.9,540.0 L1048.3,540.9 L1048.5,542.0 Z" fill="#dadada" stroke="#777" stroke-width="0.7" />
<path d="M1046.5,543.1 L1046.5,543.8 L1046.3,544.5 L1045.9,545.2 L1045.5,545.9 L1045.0,546.4 L1044.4,546.8 L1043.9,547.0 L1043.4,547.1 L1042.9,547.0 L1042.6,546.6 L1042.4,546.2 L1042.3,545.6 L1042.4,544.9 L1042.6,544.2 L1042.9,543.5 L1043.4,542.8 L1043.9,542.3 L1044.4,541.9 L1045.0,541.7 L1045.5,541.6 L1045.9,541.8 L1046.3,542.1 L1046.5,542.5 L1046.5,543.1 Z" fill="#f0f0f0" stroke="#888" stroke-width="0.7" />
<path d="M1046.8,519.9 L1046.6,521.9 L1046.0,524.1 L1045.0,526.2 L1043.7,528.1 L1042.1,529.7 L1040.5,530.9 L1038.8,531.6 L1037.3,531.7 L1036.0,531.3 L1035.0,530.4 L1034.3,529.0 L1034.1,527.2 L1034.3,525.1 L1035.0,523.0 L1036.0,520.9 L1037.3,519.0 L1038.8,517.4 L1040.5,516.2 L1042.1,515.5 L1043.7,515.3 L1045.0,515.7 L1046.0,516.7 L1046.6,518.1 L1046.8,519.9 Z" fill="#e4e4e4" stroke="#6a6a6a" stroke-width="0.7" />
<path d="M1044.5,521.2 L1044.4,522.5 L1044.0,523.9 L1043.3,525.2 L1042.5,526.4 L1041.5,527.5 L1040.5,528.2 L1039.4,528.7 L1038.5,528.8 L1037.6,528.5 L1037.0,527.9 L1036.6,527.0 L1036.4,525.9 L1036.6,524.6 L1037.0,523.2 L1037.6,521.9 L1038.5,520.6 L1039.4,519.6 L1040.5,518.8 L1041.5,518.4 L1042.5,518.3 L1043.3,518.6 L1044.0,519.2 L1044.4,520.1 L1044.5,521.2 Z" fill="#dadada" stroke="#777" stroke-width="0.7" />
<path d="M1042.6,522.3 L1042.5,523.0 L1042.3,523.7 L1042.0,524.4 L1041.5,525.1 L1041.0,525.6 L1040.5,526.0 L1039.9,526.2 L1039.4,526.3 L1039.0,526.1 L1038.6,525.8 L1038.4,525.3 L1038.4,524.8 L1038.4,524.1 L1038.6,523.4 L1039.0,522.7 L1039.4,522.0 L1039.9,521.5 L1040.5,521.1 L1041.0,520.8 L1041.5,520.8 L1042.0,520.9 L1042.3,521.3 L1042.5,521.7 L1042.6,522.3 Z" fill="#f0f0f0" stroke="#888" stroke-width="0.7" />
<path d="M1050.8,494.5 L1050.6,496.6 L1049.9,498.7 L1048.9,500.8 L1047.6,502.7 L1046.1,504.4 L1044.4,505.5 L1042.8,506.2 L1041.3,506.4 L1039.9,506.0 L1038.9,505.0 L1038.3,503.6 L1038.1,501.8 L1038.3,499.8 L1038.9,497.6 L1039.9,495.5 L1041.3,493.6 L1042.8,492.0 L1044.4,490.8 L1046.1,490.1 L1047.6,490.0 L1048.9,490.4 L1049.9,491.3 L1050.6,492.7 L1050.8,494.5 Z" fill="#e4e4e4" stroke="#6a6a6a" stroke-width="0.7" />
<path d="M1048.5,495.9 L1048.3,497.1 L1047.9,498.5 L1047.3,499.8 L1046.5,501.1 L1045.5,502.1 L1044.4,502.9 L1043.4,503.3 L1042.4,503.4 L1041.6,503.1 L1040.9,502.5 L1040.5,501.6 L1040.4,500.5 L1040.5,499.2 L1040.9,497.8 L1041.6,496.5 L1042.4,495.3 L1043.4,494.2 L1044.4,493.5 L1045.5,493.0 L1046.5,492.9 L1047.3,493.2 L1047.9,493.8 L1048.3,494.7 L1048.5,495.9 Z" fill="#dadada" stroke="#777" stroke-width="0.7" />
<path d="M1046.5,497.0 L1046.5,497.6 L1046.3,498.3 L1045.9,499.0 L1045.5,499.7 L1045.0,500.2 L1044.4,500.6 L1043.9,500.9 L1043.4,500.9 L1042.9,500.8 L1042.6,500.5 L1042.4,500.0 L1042.3,499.4 L1042.4,498.7 L1042.6,498.0 L1042.9,497.3 L1043.4,496.6 L1043.9,496.1 L1044.4,495.7 L1045.0,495.5 L1045.5,495.4 L1045.9,495.6 L1046.3,495.9 L1046.5,496.4 L1046.5,497.0 Z" fill="#f0f0f0" stroke="#888" stroke-width="0.7" />
<path d="M1062.1,468.5 L1061.8,470.5 L1061.2,472.7 L1060.2,474.8 L1058.9,476.7 L1057.3,478.3 L1055.7,479.5 L1054.1,480.2 L1052.5,480.3 L1051.2,479.9 L1050.2,479.0 L1049.6,477.6 L1049.3,475.8 L1049.6,473.7 L1050.2,471.6 L1051.2,469.5 L1052.5,467.6 L1054.1,465.9 L1055.7,464.8 L1057.3,464.1 L1058.9,463.9 L1060.2,464.3 L1061.2,465.3 L1061.8,466.7 L1062.1,468.5 Z" fill="#e4e4e4" stroke="#6a6a6a" stroke-width="0.7" />
<path d="M1059.7,469.8 L1059.6,471.1 L1059.2,472.5 L1058.6,473.8 L1057.7,475.0 L1056.7,476.1 L1055.7,476.8 L1054.7,477.3 L1053.7,477.4 L1052.8,477.1 L1052.2,476.5 L1051.8,475.6 L1051.7,474.4 L1051.8,473.2 L1052.2,471.8 L1052.8,470.4 L1053.7,469.2 L1054.7,468.2 L1055.7,467.4 L1056.7,467.0 L1057.7,466.9 L1058.6,467.2 L1059.2,467.8 L1059.6,468.7 L1059.7,469.8 Z" fill="#dadada" stroke="#777" stroke-width="0.7" />
<path d="M1057.8,470.9 L1057.7,471.6 L1057.5,472.3 L1057.2,473.0 L1056.8,473.6 L1056.2,474.2 L1055.7,474.6 L1055.2,474.8 L1054.6,474.9 L1054.2,474.7 L1053.9,474.4 L1053.7,473.9 L1053.6,473.3 L1053.7,472.7 L1053.9,471.9 L1054.2,471.2 L1054.6,470.6 L1055.2,470.1 L1055.7,469.7 L1056.2,469.4 L1056.8,469.4 L1057.2,469.5 L1057.5,469.8 L1057.7,470.3 L1057.8,470.9 Z" fill="#f0f0f0" stroke="#888" stroke-width="0.7" />
<path d="M1078.9,445.7 L1078.7,447.8 L1078.1,449.9 L1077.1,452.0 L1075.7,453.9 L1074.2,455.5 L1072.6,456.7 L1070.9,457.4 L1069.4,457.6 L1068.1,457.2 L1067.1,456.2 L1066.4,454.8 L1066.2,453.0 L1066.4,451.0 L1067.1,448.8 L1068.1,446.7 L1069.4,444.8 L1070.9,443.2 L1072.6,442.0 L1074.2,441.3 L1075.7,441.2 L1077.1,441.6 L1078.1,442.5 L1078.7,443.9 L1078.9,445.7 Z" fill="#e4e4e4" stroke="#6a6a6a" stroke-width="0.7" />
<path d="M1076.6,447.0 L1076.5,448.3 L1076.1,449.7 L1075.4,451.0 L1074.6,452.3 L1073.6,453.3 L1072.6,454.1 L1071.5,454.5 L1070.5,454.6 L1069.7,454.3 L1069.1,453.7 L1068.7,452.8 L1068.5,451.7 L1068.7,450.4 L1069.1,449.0 L1069.7,447.7 L1070.5,446.5 L1071.5,445.4 L1072.6,444.7 L1073.6,444.2 L1074.6,444.1 L1075.4,444.4 L1076.1,445.0 L1076.5,445.9 L1076.6,447.0 Z" fill="#dadada" stroke="#777" stroke-width="0.7" />
<path d="M1074.7,448.2 L1074.6,448.8 L1074.4,449.5 L1074.1,450.2 L1073.6,450.9 L1073.1,451.4 L1072.6,451.8 L1072.0,452.1 L1071.5,452.1 L1071.1,452.0 L1070.7,451.6 L1070.5,451.2 L1070.4,450.6 L1070.5,449.9 L1070.7,449.2 L1071.1,448.5 L1071.5,447.8 L1072.0,447.3 L1072.6,446.9 L1073.1,446.7 L1073.6,446.6 L1074.1,446.8 L1074.4,447.1 L1074.6,447.6 L1074.7,448.2 Z" fill="#f0f0f0" stroke="#888" stroke-width="0.7" />
<path d="M1060.8,454.9 L1060.7,455.8 L1060.4,456.8 L1059.9,457.8 L1059.3,458.8 L1058.6,459.5 L1057.8,460.1 L1057.0,460.4 L1056.3,460.5 L1055.7,460.3 L1055.2,459.8 L1054.9,459.2 L1054.8,458.3 L1054.9,457.4 L1055.2,456.3 L1055.7,455.4 L1056.3,454.4 L1057.0,453.7 L1057.8,453.1 L1058.6,452.8 L1059.3,452.7 L1059.9,452.9 L1060.4,453.4 L1060.7,454.0 L1060.8,454.9 Z" fill="#e9e9e9" stroke="#111" stroke-width="1.5" />
<path d="M1060.8,483.9 L1060.7,484.9 L1060.4,485.9 L1059.9,486.9 L1059.3,487.8 L1058.6,488.6 L1057.8,489.1 L1057.0,489.5 L1056.3,489.5 L1055.7,489.3 L1055.2,488.9 L1054.9,488.2 L1054.8,487.4 L1054.9,486.4 L1055.2,485.4 L1055.7,484.4 L1056.3,483.5 L1057.0,482.7 L1057.8,482.2 L1058.6,481.8 L1059.3,481.8 L1059.9,482.0 L1060.4,482.4 L1060.7,483.1 L1060.8,483.9 Z" fill="#e9e9e9" stroke="#111" stroke-width="1.5" />
<path d="M1060.8,539.8 L1060.7,540.8 L1060.4,541.8 L1059.9,542.8 L1059.3,543.7 L1058.6,544.4 L1057.8,545.0 L1057.0,545.3 L1056.3,545.4 L1055.7,545.2 L1055.2,544.8 L1054.9,544.1 L1054.8,543.3 L1054.9,542.3 L1055.2,541.3 L1055.7,540.3 L1056.3,539.4 L1057.0,538.6 L1057.8,538.0 L1058.6,537.7 L1059.3,537.6 L1059.9,537.8 L1060.4,538.3 L1060.7,539.0 L1060.8,539.8 Z" fill="#e9e9e9" stroke="#111" stroke-width="1.5" />
<path d="M1060.8,568.9 L1060.7,569.8 L1060.4,570.8 L1059.9,571.8 L1059.3,572.7 L1058.6,573.5 L1057.8,574.1 L1057.0,574.4 L1056.3,574.5 L1055.7,574.3 L1055.2,573.8 L1054.9,573.1 L1054.8,572.3 L1054.9,571.3 L1055.2,570.3 L1055.7,569.3 L1056.3,568.4 L1057.0,567.7 L1057.8,567.1 L1058.6,566.8 L1059.3,566.7 L1059.9,566.9 L1060.4,567.3 L1060.7,568.0 L1060.8,568.9 Z" fill="#e9e9e9" stroke="#111" stroke-width="1.5" />
<path d="M1130.1,415.1 L1130.0,416.1 L1129.7,417.1 L1129.2,418.1 L1128.6,419.0 L1127.9,419.7 L1127.1,420.3 L1126.3,420.6 L1125.6,420.7 L1125.0,420.5 L1124.5,420.1 L1124.2,419.4 L1124.1,418.5 L1124.2,417.6 L1124.5,416.6 L1125.0,415.6 L1125.6,414.7 L1126.3,413.9 L1127.1,413.3 L1127.9,413.0 L1128.6,412.9 L1129.2,413.1 L1129.7,413.6 L1130.0,414.3 L1130.1,415.1 Z" fill="#e9e9e9" stroke="#111" stroke-width="1.5" />
<path d="M1130.1,444.1 L1130.0,445.1 L1129.7,446.1 L1129.2,447.1 L1128.6,448.0 L1127.9,448.8 L1127.1,449.4 L1126.3,449.7 L1125.6,449.8 L1125.0,449.6 L1124.5,449.1 L1124.2,448.4 L1124.1,447.6 L1124.2,446.6 L1124.5,445.6 L1125.0,444.6 L1125.6,443.7 L1126.3,443.0 L1127.1,442.4 L1127.9,442.1 L1128.6,442.0 L1129.2,442.2 L1129.7,442.6 L1130.0,443.3 L1130.1,444.1 Z" fill="#e9e9e9" stroke="#111" stroke-width="1.5" />
<path d="M1130.1,500.0 L1130.0,501.0 L1129.7,502.0 L1129.2,503.0 L1128.6,503.9 L1127.9,504.7 L1127.1,505.2 L1126.3,505.6 L1125.6,505.6 L1125.0,505.4 L1124.5,505.0 L1124.2,504.3 L1124.1,503.5 L1124.2,502.5 L1124.5,501.5 L1125.0,500.5 L1125.6,499.6 L1126.3,498.8 L1127.1,498.3 L1127.9,497.9 L1128.6,497.9 L1129.2,498.1 L1129.7,498.5 L1130.0,499.2 L1130.1,500.0 Z" fill="#e9e9e9" stroke="#111" stroke-width="1.5" />
<path d="M1130.1,529.1 L1130.0,530.0 L1129.7,531.1 L1129.2,532.0 L1128.6,533.0 L1127.9,533.7 L1127.1,534.3 L1126.3,534.6 L1125.6,534.7 L1125.0,534.5 L1124.5,534.0 L1124.2,533.4 L1124.1,532.5 L1124.2,531.6 L1124.5,530.6 L1125.0,529.6 L1125.6,528.6 L1126.3,527.9 L1127.1,527.3 L1127.9,527.0 L1128.6,526.9 L1129.2,527.1 L1129.7,527.6 L1130.0,528.2 L1130.1,529.1 Z" fill="#e9e9e9" stroke="#111" stroke-width="1.5" />
<defs><filter id="blur1" x="-200%" y="-50%" width="500%" height="200%"><feGaussianBlur stdDeviation="1.3"/></filter></defs>
<path d="M1104.8,388 L1107.2,396 L1101.2,421 L1098.4,410 Z" fill="#fff" filter="url(#blur1)"/>
<path d="M1103.4,398 L1104.6,402 L1101,418 L1099.8,410 Z" fill="#fff"/>
<path d="M1107,311.7 L1124.2,311.7 L1103,404.5 Z" fill="#000"/>
<text transform="translate(1114.7,305.5) scale(1,1.045)" font-size="30.3" text-anchor="middle" fill="#000" stroke="none">A</text>
<g transform="translate(265.0,795.0) scale(1.0)" stroke="#8c8c8c" stroke-width="0.75" fill="#f1f1f1"><path d="M1.4,-3.6 L11.2,1.9 L11.2,10.6 L2.4,7.2 Z"/><path d="M4.4,-1.8 C6,1 6,5 4.9,8.1 M6.6,-0.6 C8.2,2.2 8.2,6.2 7.1,9 M8.8,0.6 C10.2,3.4 10.2,7 9.3,9.8" fill="none" stroke="#9a9a9a"/><ellipse cx="1.6" cy="1.2" rx="5.6" ry="7.4" transform="rotate(-22 1.6 1.2)"/><path d="M-7.4,-1 L-4.5,-7.5 L1.5,-8.8 L5.4,-4.4 L3.6,5 L-0.6,8.6 L-6,5.6 Z"/><path d="M-4.5,-7.5 L-2.6,-1.8 L-6,5.6 M-2.6,-1.8 L3.4,-3.2" fill="none"/></g>
<g transform="translate(265.6,825.0) scale(1.0)" stroke="#8c8c8c" stroke-width="0.75" fill="#f1f1f1"><path d="M1.4,-3.6 L11.2,1.9 L11.2,10.6 L2.4,7.2 Z"/><path d="M4.4,-1.8 C6,1 6,5 4.9,8.1 M6.6,-0.6 C8.2,2.2 8.2,6.2 7.1,9 M8.8,0.6 C10.2,3.4 10.2,7 9.3,9.8" fill="none" stroke="#9a9a9a"/><ellipse cx="1.6" cy="1.2" rx="5.6" ry="7.4" transform="rotate(-22 1.6 1.2)"/><path d="M-7.4,-1 L-4.5,-7.5 L1.5,-8.8 L5.4,-4.4 L3.6,5 L-0.6,8.6 L-6,5.6 Z"/><path d="M-4.5,-7.5 L-2.6,-1.8 L-6,5.6 M-2.6,-1.8 L3.4,-3.2" fill="none"/></g>
<g transform="translate(267.2,855.6) scale(1.0)" stroke="#8c8c8c" stroke-width="0.75" fill="#f1f1f1"><path d="M1.4,-3.6 L11.2,1.9 L11.2,10.6 L2.4,7.2 Z"/><path d="M4.4,-1.8 C6,1 6,5 4.9,8.1 M6.6,-0.6 C8.2,2.2 8.2,6.2 7.1,9 M8.8,0.6 C10.2,3.4 10.2,7 9.3,9.8" fill="none" stroke="#9a9a9a"/><ellipse cx="1.6" cy="1.2" rx="5.6" ry="7.4" transform="rotate(-22 1.6 1.2)"/><path d="M-7.4,-1 L-4.5,-7.5 L1.5,-8.8 L5.4,-4.4 L3.6,5 L-0.6,8.6 L-6,5.6 Z"/><path d="M-4.5,-7.5 L-2.6,-1.8 L-6,5.6 M-2.6,-1.8 L3.4,-3.2" fill="none"/></g>
<g transform="translate(320.0,762.0) scale(1.0)" stroke="#8c8c8c" stroke-width="0.75" fill="#f1f1f1"><path d="M1.4,-3.6 L11.2,1.9 L11.2,10.6 L2.4,7.2 Z"/><path d="M4.4,-1.8 C6,1 6,5 4.9,8.1 M6.6,-0.6 C8.2,2.2 8.2,6.2 7.1,9 M8.8,0.6 C10.2,3.4 10.2,7 9.3,9.8" fill="none" stroke="#9a9a9a"/><ellipse cx="1.6" cy="1.2" rx="5.6" ry="7.4" transform="rotate(-22 1.6 1.2)"/><path d="M-7.4,-1 L-4.5,-7.5 L1.5,-8.8 L5.4,-4.4 L3.6,5 L-0.6,8.6 L-6,5.6 Z"/><path d="M-4.5,-7.5 L-2.6,-1.8 L-6,5.6 M-2.6,-1.8 L3.4,-3.2" fill="none"/></g>
<g transform="translate(371.0,734.0) scale(1.0)" stroke="#8c8c8c" stroke-width="0.75" fill="#f1f1f1"><path d="M1.4,-3.6 L11.2,1.9 L11.2,10.6 L2.4,7.2 Z"/><path d="M4.4,-1.8 C6,1 6,5 4.9,8.1 M6.6,-0.6 C8.2,2.2 8.2,6.2 7.1,9 M8.8,0.6 C10.2,3.4 10.2,7 9.3,9.8" fill="none" stroke="#9a9a9a"/><ellipse cx="1.6" cy="1.2" rx="5.6" ry="7.4" transform="rotate(-22 1.6 1.2)"/><path d="M-7.4,-1 L-4.5,-7.5 L1.5,-8.8 L5.4,-4.4 L3.6,5 L-0.6,8.6 L-6,5.6 Z"/><path d="M-4.5,-7.5 L-2.6,-1.8 L-6,5.6 M-2.6,-1.8 L3.4,-3.2" fill="none"/></g>
<g transform="translate(423.0,703.6) scale(1.0)" stroke="#8c8c8c" stroke-width="0.75" fill="#f1f1f1"><path d="M1.4,-3.6 L11.2,1.9 L11.2,10.6 L2.4,7.2 Z"/><path d="M4.4,-1.8 C6,1 6,5 4.9,8.1 M6.6,-0.6 C8.2,2.2 8.2,6.2 7.1,9 M8.8,0.6 C10.2,3.4 10.2,7 9.3,9.8" fill="none" stroke="#9a9a9a"/><ellipse cx="1.6" cy="1.2" rx="5.6" ry="7.4" transform="rotate(-22 1.6 1.2)"/><path d="M-7.4,-1 L-4.5,-7.5 L1.5,-8.8 L5.4,-4.4 L3.6,5 L-0.6,8.6 L-6,5.6 Z"/><path d="M-4.5,-7.5 L-2.6,-1.8 L-6,5.6 M-2.6,-1.8 L3.4,-3.2" fill="none"/></g>
<path d="M 275.6,798.4 L 453.0,695.6 L 463.0,701.0 L 463.0,860.0 L 286.0,921.0 L 275.6,917.0 Z" fill="#8d8d8d" stroke="#1a1a1a" stroke-width="1.3" />
<path d="M 275.6,798.4 L 453.0,695.6 L 463.0,701.0 L 286.0,803.0 Z" fill="#707070" stroke="#1a1a1a" stroke-width="1.0" />
<path d="M 275.6,798.4 L 286.0,803.0 L 286.0,921.0 L 275.6,917.0 Z" fill="#7a7a7a" stroke="#1a1a1a" stroke-width="1.0" />
<path d="M 415.0,752.0 L 443.0,733.0 L 473.0,749.6 L 473.0,783.0 Z" fill="#8a8a8a" stroke="#1a1a1a" stroke-width="1.0" />
<path d="M 415.0,752.0 L 473.0,783.0 L 473.0,800.0 L 428.0,839.0 L 415.0,831.0 Z" fill="#808080" stroke="#1a1a1a" stroke-width="1.0" />
<path d="M 412.0,749.0 L 412.0,830.0" fill="none" stroke="#333" stroke-width="0.7" />
<path d="M 313.0,810.0 L 343.0,791.4 L 430.0,838.0 L 415.0,855.6 Z" fill="#8a8a8a" stroke="#1a1a1a" stroke-width="1.0" />
<path d="M 313.0,810.0 L 415.0,855.6 L 415.0,880.0 L 379.0,880.0 L 379.0,922.8 L 313.0,922.8 Z" fill="#808080" stroke="#1a1a1a" stroke-width="1.0" />
<path d="M 312.4,810.0 L 312.4,885.0" fill="none" stroke="#333" stroke-width="0.7" />
<g transform="translate(299.0,813.6) scale(1.0)" stroke="#6c6c6c" stroke-width="0.80" fill="#ececec"><ellipse cx="0" cy="0" rx="9.6" ry="11.2" transform="rotate(-22)" fill="#e6e6e6"/><path d="M-8.7,-1.8 L-5.1,-8.1 L1.6,-8.8 L5.5,-3.2 L3.4,7.1 L-1.6,9.9 L-6.9,6 Z" fill="#e2e2e2"/><path d="M-6.2,-0.4 L-2.6,-6.7 L4.1,-7.4 L8.0,-1.8 L5.9,8.5 L0.9,11.3 L-4.4,7.4 Z" fill="#efefef"/><path d="M-8.7,-1.8 L-6.2,-0.4 M-5.1,-8.1 L-2.6,-6.7 M-6.9,6 L-4.4,7.4 M-6.2,-0.4 L-4.4,7.4" fill="none"/><ellipse cx="5.5" cy="3.2" rx="4.9" ry="5.9" transform="rotate(-22 5.5 3.2)" fill="#e9e9e9"/><ellipse cx="6.7" cy="3.9" rx="3.7" ry="4.7" transform="rotate(-22 6.7 3.9)" fill="#f4f4f4"/></g>
<g transform="translate(299.0,844.4) scale(1.0)" stroke="#6c6c6c" stroke-width="0.80" fill="#ececec"><ellipse cx="0" cy="0" rx="9.6" ry="11.2" transform="rotate(-22)" fill="#e6e6e6"/><path d="M-8.7,-1.8 L-5.1,-8.1 L1.6,-8.8 L5.5,-3.2 L3.4,7.1 L-1.6,9.9 L-6.9,6 Z" fill="#e2e2e2"/><path d="M-6.2,-0.4 L-2.6,-6.7 L4.1,-7.4 L8.0,-1.8 L5.9,8.5 L0.9,11.3 L-4.4,7.4 Z" fill="#efefef"/><path d="M-8.7,-1.8 L-6.2,-0.4 M-5.1,-8.1 L-2.6,-6.7 M-6.9,6 L-4.4,7.4 M-6.2,-0.4 L-4.4,7.4" fill="none"/><ellipse cx="5.5" cy="3.2" rx="4.9" ry="5.9" transform="rotate(-22 5.5 3.2)" fill="#e9e9e9"/><ellipse cx="6.7" cy="3.9" rx="3.7" ry="4.7" transform="rotate(-22 6.7 3.9)" fill="#f4f4f4"/></g>
<g transform="translate(300.4,873.6) scale(1.0)" stroke="#6c6c6c" stroke-width="0.80" fill="#ececec"><ellipse cx="0" cy="0" rx="9.6" ry="11.2" transform="rotate(-22)" fill="#e6e6e6"/><path d="M-8.7,-1.8 L-5.1,-8.1 L1.6,-8.8 L5.5,-3.2 L3.4,7.1 L-1.6,9.9 L-6.9,6 Z" fill="#e2e2e2"/><path d="M-6.2,-0.4 L-2.6,-6.7 L4.1,-7.4 L8.0,-1.8 L5.9,8.5 L0.9,11.3 L-4.4,7.4 Z" fill="#efefef"/><path d="M-8.7,-1.8 L-6.2,-0.4 M-5.1,-8.1 L-2.6,-6.7 M-6.9,6 L-4.4,7.4 M-6.2,-0.4 L-4.4,7.4" fill="none"/><ellipse cx="5.5" cy="3.2" rx="4.9" ry="5.9" transform="rotate(-22 5.5 3.2)" fill="#e9e9e9"/><ellipse cx="6.7" cy="3.9" rx="3.7" ry="4.7" transform="rotate(-22 6.7 3.9)" fill="#f4f4f4"/></g>
<g transform="translate(353.4,782.4) scale(1.0)" stroke="#6c6c6c" stroke-width="0.80" fill="#ececec"><ellipse cx="0" cy="0" rx="9.6" ry="11.2" transform="rotate(-22)" fill="#e6e6e6"/><path d="M-8.7,-1.8 L-5.1,-8.1 L1.6,-8.8 L5.5,-3.2 L3.4,7.1 L-1.6,9.9 L-6.9,6 Z" fill="#e2e2e2"/><path d="M-6.2,-0.4 L-2.6,-6.7 L4.1,-7.4 L8.0,-1.8 L5.9,8.5 L0.9,11.3 L-4.4,7.4 Z" fill="#efefef"/><path d="M-8.7,-1.8 L-6.2,-0.4 M-5.1,-8.1 L-2.6,-6.7 M-6.9,6 L-4.4,7.4 M-6.2,-0.4 L-4.4,7.4" fill="none"/><ellipse cx="5.5" cy="3.2" rx="4.9" ry="5.9" transform="rotate(-22 5.5 3.2)" fill="#e9e9e9"/><ellipse cx="6.7" cy="3.9" rx="3.7" ry="4.7" transform="rotate(-22 6.7 3.9)" fill="#f4f4f4"/></g>
<g transform="translate(401.0,752.6) scale(1.0)" stroke="#6c6c6c" stroke-width="0.80" fill="#ececec"><ellipse cx="0" cy="0" rx="9.6" ry="11.2" transform="rotate(-22)" fill="#e6e6e6"/><path d="M-8.7,-1.8 L-5.1,-8.1 L1.6,-8.8 L5.5,-3.2 L3.4,7.1 L-1.6,9.9 L-6.9,6 Z" fill="#e2e2e2"/><path d="M-6.2,-0.4 L-2.6,-6.7 L4.1,-7.4 L8.0,-1.8 L5.9,8.5 L0.9,11.3 L-4.4,7.4 Z" fill="#efefef"/><path d="M-8.7,-1.8 L-6.2,-0.4 M-5.1,-8.1 L-2.6,-6.7 M-6.9,6 L-4.4,7.4 M-6.2,-0.4 L-4.4,7.4" fill="none"/><ellipse cx="5.5" cy="3.2" rx="4.9" ry="5.9" transform="rotate(-22 5.5 3.2)" fill="#e9e9e9"/><ellipse cx="6.7" cy="3.9" rx="3.7" ry="4.7" transform="rotate(-22 6.7 3.9)" fill="#f4f4f4"/></g>
<g transform="translate(456.0,725.0) scale(1.0)" stroke="#6c6c6c" stroke-width="0.80" fill="#ececec"><ellipse cx="0" cy="0" rx="9.6" ry="11.2" transform="rotate(-22)" fill="#e6e6e6"/><path d="M-8.7,-1.8 L-5.1,-8.1 L1.6,-8.8 L5.5,-3.2 L3.4,7.1 L-1.6,9.9 L-6.9,6 Z" fill="#e2e2e2"/><path d="M-6.2,-0.4 L-2.6,-6.7 L4.1,-7.4 L8.0,-1.8 L5.9,8.5 L0.9,11.3 L-4.4,7.4 Z" fill="#efefef"/><path d="M-8.7,-1.8 L-6.2,-0.4 M-5.1,-8.1 L-2.6,-6.7 M-6.9,6 L-4.4,7.4 M-6.2,-0.4 L-4.4,7.4" fill="none"/><ellipse cx="5.5" cy="3.2" rx="4.9" ry="5.9" transform="rotate(-22 5.5 3.2)" fill="#e9e9e9"/><ellipse cx="6.7" cy="3.9" rx="3.7" ry="4.7" transform="rotate(-22 6.7 3.9)" fill="#f4f4f4"/></g>
<path d="M 149.5,811.0 C 148.5,802.0 159.0,794.5 170.0,795.5 L 180.0,796.8 L 210.5,816.0 L 210.5,844.0 L 181.5,859.5 L 151.0,843.0 C 149.2,842.0 149.0,840.0 149.0,837.0 Z" fill="#bdbdbd" stroke="#1a1a1a" stroke-width="1.5" />
<path d="M 149.5,811.2 C 148.5,802.0 159.0,794.5 170.0,795.5 L 180.0,796.8 L 210.5,816.0 L 181.5,830.0 L 160.0,824.2 C 155.0,822.0 150.0,817.0 149.5,811.2 Z" fill="#cdcdcd" stroke="#333" stroke-width="0.9" />
<path d="M 181.5,830.0 L 210.5,816.0 L 210.5,844.0 L 181.5,859.5 Z" fill="#b5b5b5" stroke="#333" stroke-width="0.9" />
<path d="M 149.2,819.5 C 152.0,820.2 156.0,822.5 159.5,824.2" fill="none" stroke="#222" stroke-width="0.9" />
<path d="M 149.2,823.5 L 149.2,819.5" fill="none" stroke="#222" stroke-width="0.9" />
<path d="M 150.0,823.8 L 158.5,824.2 L 173.0,832.0 Q 174.5,832.8 174.5,834.5 L 174.5,844.0 Q 174.5,846.0 172.5,845.8 L 150.0,835.0 Z" fill="#c9c9c9" stroke="#1a1a1a" stroke-width="1.2" />
<path d="M 159.0,828.0 C 161.5,827.5 165.0,829.5 165.2,831.8 C 162.5,832.0 159.5,830.5 159.0,828.0 Z" fill="#8a8a8a" stroke="#333" stroke-width="0.7" />
<path d="M 160.0,830.0 L 173.0,837.0 L 173.0,845.5" fill="none" stroke="#555" stroke-width="0.7" />
<ellipse cx="169.8" cy="807.5" rx="8.6" ry="5.2" transform="rotate(8 169.8 807.5)" fill="#e6e6e6" stroke="#222" stroke-width="1.2"/>
<ellipse cx="197.2" cy="838.0" rx="9.0" ry="16.0" transform="rotate(30.3 197.2 838.0)" fill="#969696" stroke="#1a1a1a" stroke-width="1.3"/>
<path d="M189.1,851.8 L322.2,929.5 L338.3,901.8 L205.2,824.2 Z" fill="#969696" stroke="none" stroke-width="1.1" />
<path d="M189.1,851.8 L322.2,929.5 M205.2,824.2 L338.3,901.8" fill="none" stroke="#1a1a1a" stroke-width="1.3" />
<ellipse cx="328.5" cy="914.6" rx="9.3" ry="16.6" transform="rotate(30.3 328.5 914.6)" fill="#7f7f7f" stroke="#1a1a1a" stroke-width="1.3"/>
<path d="M320.1,929.0 L332.8,936.4 L349.6,907.7 L336.9,900.3 Z" fill="#7f7f7f" stroke="none" stroke-width="1.1" />
<path d="M320.1,929.0 L332.8,936.4 M336.9,900.3 L349.6,907.7" fill="none" stroke="#1a1a1a" stroke-width="1.3" />
<ellipse cx="341.2" cy="922.0" rx="9.3" ry="16.6" transform="rotate(30.3 341.2 922.0)" fill="#9a9a9a" stroke="#1a1a1a" stroke-width="1.3"/>
<path d="M334.9,932.9 L344.6,938.6 L357.3,916.8 L347.6,911.2 Z" fill="#a9a9a9" stroke="none" stroke-width="1.1" />
<path d="M334.9,932.9 L344.6,938.6 M347.6,911.2 L357.3,916.8" fill="none" stroke="#1a1a1a" stroke-width="1.0" />
<ellipse cx="351.0" cy="927.7" rx="7.1" ry="12.6" transform="rotate(30.3 351.0 927.7)" fill="#b6b6b6" stroke="#1a1a1a" stroke-width="1.0"/>
<path d="M346.7,935.1 L360.5,943.1 L369.1,928.5 L355.3,920.4 Z" fill="#a8a8a8" stroke="none" stroke-width="1.1" />
<path d="M346.7,935.1 L360.5,943.1 M355.3,920.4 L369.1,928.5" fill="none" stroke="#1a1a1a" stroke-width="0.9" />
<path d="M 835.0,740.0 L 854.0,740.0 L 859.0,863.0 L 830.0,863.0 Z" fill="#c3c3c3" stroke="#1a1a1a" stroke-width="1.0" />
<path d="M 703.0,748.5 L 719.0,759.0 L 725.0,868.0 L 856.0,864.0 L 854.0,741.0 L 750.0,745.0 Z" fill="#bcbcbc" stroke="#1a1a1a" stroke-width="1.2" />
<path d="M 719.0,759.0 L 723.0,761.8 L 729.0,867.5 L 725.0,868.0 Z" fill="#c9c9c9" stroke="#333" stroke-width="0.8" />
<path d="M 723.0,761.8 L 751.0,777.0 L 756.5,866.5 L 729.0,867.5 Z" fill="#b7b7b7" stroke="#333" stroke-width="0.8" />
<path d="M 751.0,746.0 L 751.0,777.0 L 756.5,866.5" fill="none" stroke="#444" stroke-width="0.8" />
<path d="M 753.5,746.0 L 753.5,760.0" fill="none" stroke="#555" stroke-width="0.7" />
<path d="M 822.0,765.0 L 828.0,864.0 M 825.5,767.0 L 831.0,863.8" fill="none" stroke="#333" stroke-width="0.9" />
<path d="M 824.0,766.0 L 856.0,783.0 L 856.0,863.5 L 830.0,864.0 Z" fill="#c4c4c4" stroke="#444" stroke-width="0.8" />
<path d="M 703.0,748.5 L 719.0,759.0" fill="none" stroke="#1a1a1a" stroke-width="1.3" />
<path d="M 792.0,745.0 L 836.0,743.0 L 874.4,765.0 L 872.0,787.0 Z" fill="#6f6f6f" stroke="#1a1a1a" stroke-width="1.2" />
<path d="M 836.0,743.0 L 850.0,742.4 L 875.0,758.0 L 874.4,765.0 Z" fill="#8c8c8c" stroke="#333" stroke-width="0.8" />
<ellipse cx="770.5" cy="777.2" rx="8.7" ry="15.6" transform="rotate(29.6 770.5 777.2)" fill="#a3a3a3" stroke="#1a1a1a" stroke-width="1.3"/>
<path d="M762.7,790.8 L861.8,847.1 L877.2,820.0 L778.2,763.6 Z" fill="#a3a3a3" stroke="none" stroke-width="1.1" />
<path d="M762.7,790.8 L861.8,847.1 M778.2,763.6 L877.2,820.0" fill="none" stroke="#1a1a1a" stroke-width="1.3" />
<path d="M 726.5,763.5 C 726.5,754.5 734.5,749.5 740.5,751.8 L 752.5,758.2 L 752.5,747.8 L 762.0,745.5 L 778.5,756.5 L 778.5,761.2 L 761.0,768.5 L 761.0,793.5 L 758.0,792.5 L 736.0,779.0 C 730.0,775.0 726.5,770.0 726.5,763.5 Z" fill="#cbcbcb" stroke="#1a1a1a" stroke-width="1.3" />
<path d="M 752.5,758.2 L 759.0,761.8 L 761.0,768.5 M 759.0,761.8 L 778.5,756.5" fill="none" stroke="#333" stroke-width="0.8" />
<path d="M 752.5,747.8 L 756.5,759.0 L 765.0,755.5 L 762.0,745.5" fill="#bdbdbd" stroke="#333" stroke-width="0.9" />
<path d="M 759.0,761.8 L 778.5,756.5 L 778.5,761.2 L 761.0,768.5 Z" fill="#c0c0c0" stroke="#333" stroke-width="0.8" />
<ellipse cx="737.5" cy="768.8" rx="4.4" ry="6.8" transform="rotate(-28 737.5 768.8)" fill="#ececec" stroke="#333" stroke-width="0.9"/>
<ellipse cx="767.5" cy="777.5" rx="8.7" ry="15.6" transform="rotate(29.6 767.5 777.5)" fill="#a3a3a3" stroke="#1a1a1a" stroke-width="1.1"/>
<path d="M765.4,792.2 L801.0,812.5 L816.4,785.4 L780.8,765.1 Z" fill="#a3a3a3" stroke="none" stroke-width="1.1" />
<path d="M765.4,792.2 L801.0,812.5 M780.8,765.1 L816.4,785.4" fill="none" stroke="#1a1a1a" stroke-width="1.3" />
<path d="M 761.0,841.0 L 769.5,835.3 L 817.5,862.2 L 808.0,865.5 L 761.0,869.5 Z" fill="#e3e3e3" stroke="#1a1a1a" stroke-width="1.2" />
<path d="M 769.5,835.3 L 817.5,862.2 L 814.5,863.4 L 767.5,836.8 Z" fill="#6c6c6c" stroke="#333" stroke-width="0.7" />
<path d="M 767.5,836.8 L 814.5,863.4 L 808.0,865.5 L 761.0,841.0 Z" fill="#d2d2d2" stroke="#444" stroke-width="0.7" />
<ellipse cx="770.0" cy="854.5" rx="5.0" ry="7.2" transform="rotate(-25 770.0 854.5)" fill="#f2f2f2" stroke="#222" stroke-width="1.0"/>
<path d="M 766.2,850.0 C 767.5,855.0 771.0,860.0 774.0,860.5" fill="none" stroke="#444" stroke-width="0.8" />
<path d="M574.0,809.0 C575.5,808.2 577.0,802.8 583.0,804.0 C589.0,805.2 599.7,810.0 610.0,816.0 C620.3,822.0 636.3,833.0 645.0,840.0 C653.7,847.0 657.9,852.9 662.0,858.0 C666.1,863.1 668.2,868.4 669.5,870.5 L593,876 L545,876 L545,816 Z" fill="#dedede" stroke="#1a1a1a" stroke-width="1.4" />
<path d="M562,805 L574,809 L560,816.5 Z" fill="#888" stroke="#333" stroke-width="0.8" />
<ellipse cx="581.5" cy="815.0" rx="6.0" ry="3.3" transform="rotate(0 581.5 815.0)" fill="#ececec" stroke="#333" stroke-width="0.9"/>
<ellipse cx="634.5" cy="845.5" rx="6.0" ry="3.3" transform="rotate(0 634.5 845.5)" fill="#ececec" stroke="#333" stroke-width="0.9"/>
<path d="M593,873.5 L856,861.6 L854,877.5 L530,885 L588,882.5 Z" fill="#e6e6e6" stroke="#1a1a1a" stroke-width="1.3" />
<path d="M530,885 L854,877.5 L930,919 L933,919.5 L929,921 L578,937 L504,894 L520,884 Z" fill="#e0e0e0" stroke="#1a1a1a" stroke-width="1.2" />
<path d="M530,885 L854,877.5 L930,919" fill="none" stroke="#333" stroke-width="0.8" />
<path d="M528.5,757 L662,750.8 L562.5,804 C561.9,806.0 558.8,810.7 559.0,816.0 C559.2,821.3 560.8,828.7 564.0,836.0 C567.2,843.3 573.0,852.8 578.0,860.0 C583.0,867.2 591.3,875.8 594.0,879.0 L588,882.5 L530,885 L528.5,884 Z" fill="#e0e0e0" stroke="#333" stroke-width="1.0" />
<path d="M559.5,806.0 C558.9,807.8 555.8,811.5 556.0,817.0 C556.2,822.5 557.8,831.3 561.0,839.0 C564.2,846.7 570.2,855.8 575.0,863.0 C579.8,870.2 587.5,878.8 590.0,882.0 L594,879 C591.3,875.8 583.0,867.2 578.0,860.0 C573.0,852.8 567.2,843.3 564.0,836.0 C560.8,828.7 559.2,821.3 559.0,816.0 C558.8,810.7 561.9,806.0 562.5,804.0 Z" fill="#ececec" stroke="none" stroke-width="1.1" />
<path d="M559.5,806.0 C558.9,807.8 555.8,811.5 556.0,817.0 C556.2,822.5 557.8,831.3 561.0,839.0 C564.2,846.7 570.2,855.8 575.0,863.0 C579.8,870.2 587.5,878.8 590.0,882.0" fill="none" stroke="#444" stroke-width="0.8" />
<path d="M562.5,804.0 C561.9,806.0 558.8,810.7 559.0,816.0 C559.2,821.3 560.8,828.7 564.0,836.0 C567.2,843.3 573.0,852.8 578.0,860.0 C583.0,867.2 591.3,875.8 594.0,879.0" fill="none" stroke="#1a1a1a" stroke-width="1.6" />
<path d="M662,750.8 L562.5,804" fill="none" stroke="#1a1a1a" stroke-width="1.6" />
<path d="M414.5,855 L467,798 L473.4,798 L473.4,881 L414.5,880.5 Z" fill="#e0e0e0" stroke="#333" stroke-width="1.0" />
<path d="M414.5,880 L414.5,855 L467,798" fill="none" stroke="#1a1a1a" stroke-width="1.7" />
<path d="M473.4,700.0 L473.4,879.0 A27.6,15.0 0 0 0 528.6,879.0 L528.6,700.0 A27.6,15.0 0 0 0 473.4,700.0 Z" fill="#e0e0e0" stroke="#1a1a1a" stroke-width="1.3" />
<path d="M473.4,691.0 L473.4,697.5 A29.6,16.0 0 0 0 532.6,697.5 L532.6,691.0 A29.6,16.0 0 0 0 473.4,691.0 Z" fill="#e0e0e0" stroke="#1a1a1a" stroke-width="1.2" />
<ellipse cx="503.0" cy="691.0" rx="29.6" ry="16.0" fill="#e8e8e8" stroke="#1a1a1a" stroke-width="1.3"/>
<g transform="translate(500.0,690.0) scale(1.0)" stroke="#444" stroke-width="0.80" fill="#ededed"><ellipse cx="0" cy="1.5" rx="12.5" ry="7.3"/><ellipse cx="0" cy="0.6" rx="11.6" ry="6.6"/><path d="M-8.6,-3.4 L-4.2,-7.4 L4.6,-7.6 L8.8,-3.8 L8.8,0.6 L4.4,4.4 L-4.4,4.6 L-8.6,1 Z"/><path d="M-8.6,-3.4 L-4.2,-7.4 L4.6,-7.6 L8.8,-3.8 L4.4,0 L-4.4,0.2 Z"/><path d="M-4.4,0.2 L-4.4,4.6 M4.4,0 L4.4,4.4" fill="none"/></g>
<path d="M503,714 L956.8,695.2 L956.8,677.5 L532.6,698 Z" fill="#e6e6e6" stroke="#1a1a1a" stroke-width="1.3" />
<path d="M503,714 L956.8,695.2 L956.8,736.5 L503,758 Z" fill="#e0e0e0" stroke="#1a1a1a" stroke-width="1.2" />
<path d="M956.8,695.6 L980,708.8 L980,749.5 L956.8,736.5 Z" fill="#e4e4e4" stroke="#1a1a1a" stroke-width="1.3" />
<path d="M528.6,758 V884" fill="none" stroke="#333" stroke-width="0.9" />
<path d="M 930.0,890.0 L 947.0,898.0 L 956.0,905.0 L 936.0,916.5 L 933.0,919.0 L 930.0,919.0 Z" fill="#e6e6e6" stroke="#333" stroke-width="1.0" />
<path d="M966.4,741 L966.4,905 L956,905 L936,916.5 L930,919 L954,790 L963,741 Z" fill="#e5e5e5" stroke="none" stroke-width="1.1" />
<path d="M966.4,743 V905" fill="none" stroke="#333" stroke-width="0.9" />
<path d="M877,740 L963,736.4 L954,790 L930,919 L854,877.5 L869,790 Z" fill="#e0e0e0" stroke="#333" stroke-width="1.0" />
<path d="M963,736.4 L968.5,741 L959,790 L936,916 L933,919.5 L930,919 L954,790 Z" fill="#ebebeb" stroke="#333" stroke-width="0.8" />
<path d="M877,740 L869,790 L854,877.5" fill="none" stroke="#1a1a1a" stroke-width="1.7" />
<path d="M968.5,741 L959,790 L936,916" fill="none" stroke="#1a1a1a" stroke-width="1.5" />
<path d="M956.8,695.6 L980,708.8 L980,749.5 L956.8,736.5 Z" fill="#e4e4e4" stroke="#1a1a1a" stroke-width="1.3" />
<path d="M956.8,695.2 L956.8,736.5" fill="none" stroke="#1a1a1a" stroke-width="1.2" />
<path d="M 943.0,869.0 L 954.0,874.0 L 947.0,877.5 L 947.0,886.0 L 941.5,883.5 Z" fill="#d9d9d9" stroke="#444" stroke-width="0.8" />
<path d="M 947.0,877.0 L 964.0,867.5 L 966.5,867.5 L 966.5,886.0 Z" fill="#d2d2d2" stroke="#1a1a1a" stroke-width="1.1" />
<path d="M 958.0,878.0 L 965.0,874.0 L 966.5,874.8 L 966.5,880.5 Z" fill="#a9a9a9" stroke="#333" stroke-width="0.8" />
<path d="M 947.0,877.0 L 966.5,886.0 L 966.5,909.5 L 947.0,898.0 Z" fill="#c3c3c3" stroke="#1a1a1a" stroke-width="1.1" />
<path d="M 936.0,916.5 L 956.0,905.0" fill="none" stroke="#1a1a1a" stroke-width="1.4" />
<path d="M914,923 L959,944 L959,965 L956,965 L914,943 Z" fill="#7e7e7e" stroke="#1a1a1a" stroke-width="1.1" />
<path d="M956,965 L959,965 L959,944 L956,943 Z" fill="#a0a0a0" stroke="#444" stroke-width="0.6" />
<path d="M866,924 L908,949 L913,946 L913,922 Z" fill="#e0e0e0" stroke="#333" stroke-width="1.0" />
<path d="M908,949 L908,925" fill="none" stroke="#555" stroke-width="0.7" />
<ellipse cx="897.4" cy="932.5" rx="5.0" ry="6.2" transform="rotate(-20 897.4 932.5)" fill="#f2f2f2" stroke="#222" stroke-width="1.0"/>
<path d="M893.4,929 C894,934 897,938 901,938.5" fill="none" stroke="#555" stroke-width="0.7" />
<path d="M694,931 L694,939 L698,941 L712,933.5 L712,930.5 Z" fill="#c6c6c6" stroke="#444" stroke-width="0.8" />
<path d="M795,929 L795,935 L799,937 L806,933 L806,928.5 Z" fill="#c6c6c6" stroke="#444" stroke-width="0.8" />
<path d="M672.5,954.8 L716,931.3 L747,929.8 L703.5,954.8 Z" fill="#a2a2a2" stroke="#1a1a1a" stroke-width="1.0" />
<path d="M672.5,954.8 L672.5,958.0 L704.0,957.4 L703.5,954.8 Z" fill="#8c8c8c" stroke="#1a1a1a" stroke-width="0.9" />
<ellipse cx="700.0" cy="948.8" rx="4.6" ry="2.3" transform="rotate(0 700.0 948.8)" fill="#d9d9d9" stroke="#333" stroke-width="0.8"/>
<path d="M748,949.5 L782,932 L822,927.5 L779,949.5 Z" fill="#a2a2a2" stroke="#1a1a1a" stroke-width="1.0" />
<path d="M748,949.5 L748,952.7 L779.5,952.1 L779,949.5 Z" fill="#8c8c8c" stroke="#1a1a1a" stroke-width="0.9" />
<ellipse cx="770.4" cy="945.6" rx="4.6" ry="2.3" transform="rotate(0 770.4 945.6)" fill="#d9d9d9" stroke="#333" stroke-width="0.8"/>
<path d="M405,880 L483,915 L530,950 L526,955.5 L526,997.5 L405,941 Z" fill="#7f7f7f" stroke="#1a1a1a" stroke-width="1.3" />
<path d="M526,955.5 L557.5,974 L557.5,980 L555,985 L528,998 L526,997.5 Z" fill="#848484" stroke="#1a1a1a" stroke-width="1.2" />
<path d="M526,955.5 V997.5" fill="none" stroke="#444" stroke-width="0.7" />
<path d="M452,906 L483,919 L581,976 C585.8,974.7 599.8,972.0 610.0,968.0 C620.2,964.0 633.5,957.7 642.0,952.0 C650.5,946.3 657.8,937.0 661.0,934.0 L668.5,935 C667.1,937.5 664.2,945.3 660.0,950.0 C655.8,954.7 651.3,958.2 643.0,963.0 C634.7,967.8 620.5,975.2 610.0,979.0 C599.5,982.8 585.0,984.8 580.0,986.0 L557.5,974 L452,911 Z" fill="#efefef" stroke="#1a1a1a" stroke-width="1.3" />
<path d="M473,918 L580,981 C585.0,979.8 599.5,977.8 610.0,974.0 C620.5,970.2 634.0,963.7 643.0,958.0 C652.0,952.3 660.5,943.0 664.0,940.0" fill="none" stroke="#444" stroke-width="0.8" />
<path d="M580,981 V986" fill="none" stroke="#555" stroke-width="0.7" />
<path d="M388,888 L414.5,880.5 L473.5,881 L504,894 L578,937 L656,934 C653.3,935.8 647.7,940.7 640.0,945.0 C632.3,949.3 619.8,956.2 610.0,960.0 C600.2,963.8 585.8,966.2 581.0,967.5 L483,910.5 Z" fill="#e4e4e4" stroke="#333" stroke-width="1.0" />
<path d="M483,910.5 L581,967.5 L581,976 L483,919 Z" fill="#dcdcdc" stroke="#222" stroke-width="1.0" />
<path d="M581,967.5 C585.8,966.2 600.2,963.8 610.0,960.0 C619.8,956.2 632.3,949.3 640.0,945.0 C647.7,940.7 653.3,935.8 656.0,934.0 L661,934 C657.8,937.0 650.5,946.3 642.0,952.0 C633.5,957.7 620.2,964.0 610.0,968.0 C599.8,972.0 585.8,974.7 581.0,976.0 Z" fill="#d9d9d9" stroke="#222" stroke-width="1.0" />
<path d="M483,919 L581,976 C585.8,974.7 599.8,972.0 610.0,968.0 C620.2,964.0 633.5,957.7 642.0,952.0 C650.5,946.3 657.8,937.0 661.0,934.0" fill="none" stroke="#1a1a1a" stroke-width="1.5" />
<path d="M504,894 L578,936 L640,934" fill="none" stroke="#444" stroke-width="0.8" />
<path d="M510,896 L583,938.5" fill="none" stroke="#777" stroke-width="0.6" />
<path d="M483,910.5 L483,919" fill="none" stroke="#333" stroke-width="0.8" />
<ellipse cx="499.5" cy="910.5" rx="6.0" ry="3.4" transform="rotate(0 499.5 910.5)" fill="#ededed" stroke="#333" stroke-width="0.9"/>
<g transform="translate(583.3,955.0) scale(0.78)" stroke="#444" stroke-width="1.03" fill="#ededed"><ellipse cx="0" cy="1.5" rx="12.5" ry="7.3"/><ellipse cx="0" cy="0.6" rx="11.6" ry="6.6"/><path d="M-8.6,-3.4 L-4.2,-7.4 L4.6,-7.6 L8.8,-3.8 L8.8,0.6 L4.4,4.4 L-4.4,4.6 L-8.6,1 Z"/><path d="M-8.6,-3.4 L-4.2,-7.4 L4.6,-7.6 L8.8,-3.8 L4.4,0 L-4.4,0.2 Z"/><path d="M-4.4,0.2 L-4.4,4.6 M4.4,0 L4.4,4.4" fill="none"/></g>
<path d="M 354.0,929.5 L 379.0,916.0 L 406.0,929.0 L 413.0,933.0 C 415.0,936.0 415.0,940.0 414.0,943.0 L 414.0,967.0 C 412.0,973.0 406.0,977.0 396.0,978.0 C 390.0,978.0 386.0,976.0 383.0,974.5 L 354.0,957.5 Z" fill="#b4b4b4" stroke="#1a1a1a" stroke-width="1.5" />
<path d="M 354.0,929.5 L 379.0,916.0 L 406.0,929.0 L 413.0,933.0 C 415.5,938.0 412.0,946.0 405.0,948.5 C 398.0,951.0 390.0,950.0 383.0,946.5 Z" fill="#c3c3c3" stroke="#333" stroke-width="0.9" />
<path d="M 354.0,929.5 L 354.0,957.5" fill="none" stroke="#333" stroke-width="0.9" />
<path d="M 362.5,943.0 L 362.5,955.0 Q 363.0,957.0 366.0,958.0 L 383.0,966.5 C 390.0,969.5 400.0,969.5 406.0,966.0 C 410.0,963.0 413.5,958.0 414.0,953.0 L 414.0,949.0 C 412.0,954.0 406.0,957.5 400.0,957.8 C 393.0,958.0 388.0,956.5 383.0,954.0 L 366.0,944.5 Q 363.5,943.0 362.5,943.0 Z" fill="#c8c8c8" stroke="#1a1a1a" stroke-width="1.2" />
<path d="M 366.0,948.5 L 383.0,958.2 L 383.0,966.5 L 366.0,958.0 Z" fill="#cfcfcf" stroke="#555" stroke-width="0.7" />
<ellipse cx="394.0" cy="959.2" rx="8.4" ry="3.4" transform="rotate(0 394.0 959.2)" fill="#ececec" stroke="#222" stroke-width="1.0"/>
<path d="M 383.0,954.0 L 383.0,966.5" fill="none" stroke="#555" stroke-width="0.7" />
<path d="M385.5,926.0 L385.5,941.5 A9.5,4.6 0 0 0 404.5,941.5 L404.5,926.0 A9.5,4.6 0 0 0 385.5,926.0 Z" fill="#e6e6e6" stroke="#1a1a1a" stroke-width="0.9" />
<path d="M378.5,886.0 L378.5,919.5 A16.5,9.5 0 0 0 411.5,919.5 L411.5,886.0 A16.5,9.5 0 0 0 378.5,886.0 Z" fill="#e0e0e0" stroke="#1a1a1a" stroke-width="1.3" />
<path d="M388,888.5 L414.5,880.5 L445,881 L483,910.5 Z" fill="#e4e4e4" stroke="none" stroke-width="1.1" />
<path d="M388,888.5 L414.5,880.5" fill="none" stroke="#333" stroke-width="0.9" />
<path d="M388,888.5 L483,910.5 L483,919 L388,896 Z" fill="#dadada" stroke="#1a1a1a" stroke-width="1.1" />
<path d="M388,896 L483,919" fill="none" stroke="#1a1a1a" stroke-width="1.6" />
<path d="M378.5,872 L378.5,884 A16.5,9.5 0 0 0 411.5,884 L411.5,872 Z" fill="#e0e0e0" stroke="#1a1a1a" stroke-width="1.3" />
<path d="M388,888.6 C395,889.5 405,887 411,881.5" fill="none" stroke="#333" stroke-width="0.9" />
<ellipse cx="395" cy="872" rx="16.5" ry="9.7" fill="#e9e9e9" stroke="#1a1a1a" stroke-width="1.3"/>
<g transform="translate(395.5,869.5)" stroke="#333" stroke-width="0.8" fill="#ededed"><path d="M-10.4,-0.8 L-5.4,-5.8 L5.6,-6.8 L10.6,-1.8 L10.6,2.4 L6.6,7.2 L-5.4,8.2 L-10.4,3.4 Z"/><path d="M-10.4,-0.8 L-5.4,-5.8 L5.6,-6.8 L10.6,-1.8 L6.6,3.0 L-5.4,4.0 Z" fill="#f0f0f0"/><path d="M-5.4,4.0 L-5.4,8.2 M6.6,3.0 L6.6,7.2" fill="none"/></g>
<path d="M657.4,704.8 L743.2,654.6 L848.2,650.6 L849.4,682.4 L785.8,685.6 L784.6,689.8 L763.6,702.4 L658,706.6 Z" fill="#b7b7b7" stroke="#1a1a1a" stroke-width="1.3" />
<path d="M657.4,704.8 L763,700.6 L784.6,687.4 L784.6,689.8 L763.6,702.4 L658,706.6 Z" fill="#cdcdcd" stroke="#333" stroke-width="0.8" />
<path d="M818.8,667 L785.4,686" fill="none" stroke="#555" stroke-width="0.7" />
<ellipse cx="683.8" cy="697.6" rx="5.4" ry="2.2" transform="rotate(0 683.8 697.6)" fill="#e6e6e6" stroke="#555" stroke-width="0.8"/>
<ellipse cx="683.8" cy="698.2" rx="3.6" ry="1.3" transform="rotate(0 683.8 698.2)" fill="#f4f4f4" stroke="none" stroke-width="1.0"/>
<ellipse cx="754.0" cy="694.2" rx="5.4" ry="2.2" transform="rotate(0 754.0 694.2)" fill="#e6e6e6" stroke="#555" stroke-width="0.8"/>
<ellipse cx="754.0" cy="694.8" rx="3.6" ry="1.3" transform="rotate(0 754.0 694.8)" fill="#f4f4f4" stroke="none" stroke-width="1.0"/>
<path d="M824.5,687.1 A12.9,30.3 0 0 0 824.5,747.6999999999999 L833.5,747.6999999999999 A12.9,30.3 0 0 0 833.5,687.1 Z" fill="#8d8d8d" stroke="#1a1a1a" stroke-width="1.4"/>
<ellipse cx="833.5" cy="717.4" rx="12.9" ry="30.3" fill="#8d8d8d" stroke="#1a1a1a" stroke-width="1.4"/>
<clipPath id="rc1"><ellipse cx="833.5" cy="717.4" rx="11.4" ry="27.2"/></clipPath>
<ellipse cx="833.5" cy="717.4" rx="11.4" ry="27.2" fill="#a3a3a3" stroke="#1a1a1a" stroke-width="1.1"/>
<g clip-path="url(#rc1)"><ellipse cx="824.5" cy="717.4" rx="11.4" ry="27.2" fill="#e0e0e0" stroke="#1a1a1a" stroke-width="1.0"/></g>
<g clip-path="url(#rc1)"><path d="M800,702.2 L836,700.4" stroke="#555" stroke-width="0.7" fill="none" clip-path="none"/></g>
<circle cx="839.8" cy="716.8" r="3.4" fill="#f0f0f0" stroke="#333" stroke-width="0.8"/><circle cx="839.8" cy="716.8" r="1.6" fill="#ddd" stroke="#666" stroke-width="0.6"/>
<path d="M556.9,702.0 A12.9,30.5 0 0 0 556.9,763.0 L567.1,763.0 A12.9,30.5 0 0 0 567.1,702.0 Z" fill="#8d8d8d" stroke="#1a1a1a" stroke-width="1.4"/>
<ellipse cx="567.1" cy="732.5" rx="12.9" ry="30.5" fill="#8d8d8d" stroke="#1a1a1a" stroke-width="1.4"/>
<clipPath id="rc2"><ellipse cx="567.1" cy="732.5" rx="11.4" ry="27.4"/></clipPath>
<ellipse cx="567.1" cy="732.5" rx="11.4" ry="27.4" fill="#a3a3a3" stroke="#1a1a1a" stroke-width="1.1"/>
<g clip-path="url(#rc2)"><ellipse cx="556.9" cy="732.5" rx="11.4" ry="27.4" fill="#e0e0e0" stroke="#1a1a1a" stroke-width="1.0"/></g>
<g clip-path="url(#rc2)"><path d="M540,712.6 L575,711.2" stroke="#555" stroke-width="0.7" fill="none"/></g>
<circle cx="572.5" cy="732" r="3.4" fill="#f0f0f0" stroke="#333" stroke-width="0.8"/><circle cx="572.5" cy="732" r="1.6" fill="#ddd" stroke="#666" stroke-width="0.6"/>
</g>
<!-- ILLUSTRATION END -->
<!-- DETAIL A -->
<g id="detail" fill="none">
<rect x="1235.3" y="317.8" width="637.6" height="699.6" stroke="#444" stroke-width="1.1"/>
<rect x="1247.2" y="329.8" width="36" height="36" stroke="#000" stroke-width="2.2"/>
<text transform="translate(1265.2,358.5) scale(1,1.045)" font-size="29.3" text-anchor="middle" fill="#000">A</text>
<!-- centerlines -->
<path d="M1276 728.2H1826M1586.8 490V968" stroke="#777" stroke-width="1"/>
<!-- plate outline -->
<path d="M1477.1 524 L1483.5 518.9 L1474.6 480 L1569.3 456.3 L1579.5 496 L1582.00 495.75 L1588.26 495.70 L1594.52 495.83 L1600.77 496.12 L1607.01 496.58 L1613.24 497.21 L1619.44 498.00 L1625.63 498.97 L1631.79 500.09 L1637.91 501.39 L1644.00 502.84 L1650.04 504.47 L1656.04 506.25 L1661.99 508.19 L1667.88 510.30 L1673.72 512.56 L1679.49 514.98 L1685.20 517.55 L1690.83 520.27 L1696.39 523.15 L1701.87 526.17 L1707.27 529.34 L1712.58 532.66 L1717.80 536.12 L1722.92 539.71 L1727.94 543.44 L1732.86 547.31 L1737.68 551.31 L1742.39 555.43 L1746.98 559.68 L1751.46 564.06 L1755.82 568.55 L1760.05 573.15 L1764.17 577.87 L1768.15 582.70 L1772.00 587.64 L1775.71 592.67 L1779.29 597.81 L1782.73 603.04 L1786.03 608.36 L1789.19 613.76 L1792.19 619.25 L1795.05 624.82 L1797.76 630.46 L1800.31 636.18 L1802.71 641.96 L1804.96 647.80 L1807.04 653.70 L1808.97 659.66 L1810.73 665.66 L1812.33 671.71 L1813.77 677.80 L1815.05 683.93 L1816.16 690.09 L1817.10 696.28 L1817.87 702.49 L1818.48 708.72 L1818.92 714.96 L1819.20 721.21 L1819.30 727.47 L1819.23 733.73 L1819.00 739.98 L1818.60 746.23 L1818.03 752.46 L1817.29 758.68 L1816.39 764.87 L1815.32 771.04 L1814.08 777.17 L1812.68 783.27 L1811.12 789.33 L1809.39 795.35 L1807.50 801.32 L1805.46 807.23 L1803.25 813.09 L1800.89 818.88 L1798.37 824.61 L1795.69 830.27 L1792.87 835.86 L1789.90 841.37 L1786.78 846.79 L1783.51 852.13 L1780.11 857.38 L1776.56 862.54 L1772.88 867.60 L1769.06 872.56 L1765.10 877.41 L1761.02 882.16 L1756.82 886.79 L1752.49 891.31 L1748.03 895.71 L1743.47 899.99 L1734.3 907.5 L1752.1 945.1 L1665 989.7 L1648.1 955 L1645.29 953.22 L1638.00 954.99 L1630.66 956.53 L1623.27 957.82 L1615.85 958.88 L1608.40 959.69 L1600.92 960.27 L1593.43 960.61 L1585.93 960.70 L1578.43 960.55 L1570.94 960.16 L1563.47 959.53 L1556.02 958.65 L1548.61 957.54 L1541.23 956.19 L1533.90 954.60 L1526.63 952.78 L1519.42 950.72 L1512.28 948.43 L1505.21 945.92 L1498.23 943.17 L1491.35 940.20 L1484.56 937.01 L1477.88 933.61 L1471.31 929.99 L1464.87 926.16 L1458.54 922.12 L1452.36 917.89 L1446.31 913.45 L1440.41 908.83 L1434.66 904.01 L1429.07 899.01 L1423.64 893.84 L1418.39 888.49 L1413.30 882.98 L1408.40 877.30 L1403.69 871.47 L1399.16 865.49 L1394.83 859.37 L1390.70 853.11 L1386.78 846.72 L1383.06 840.21 L1379.55 833.58 L1376.26 826.84 L1373.19 820.00 L1370.34 813.06 L1367.72 806.04 L1365.32 798.93 L1363.15 791.75 L1361.22 784.51 L1359.52 777.20 L1358.06 769.85 L1356.84 762.45 L1355.85 755.02 L1355.11 747.56 L1354.60 740.07 L1354.34 732.58 L1354.32 725.08 L1354.54 717.58 L1355.01 710.10 L1355.71 702.63 L1356.65 695.20 L1357.84 687.79 L1359.26 680.43 L1360.92 673.11 L1362.81 665.86 L1364.94 658.67 L1367.30 651.55 L1369.88 644.51 L1372.70 637.56 L1375.73 630.70 L1378.98 623.95 L1382.45 617.30 L1386.14 610.77 L1390.03 604.36 L1394.13 598.07 L1398.42 591.93 L1402.91 585.92 L1407.60 580.07 L1412.47 574.37 L1417.52 568.82 L1422.75 563.45 L1428.15 558.24 L1433.71 553.22 L1439.43 548.37 L1445.31 543.71 L1451.33 539.24 L1457.50 534.97 L1463.79 530.90 L1470.22 527.04 L1476.77 523.38 Z" stroke="#707070" stroke-width="1.7" stroke-linejoin="round"/>
<circle cx="1586.8" cy="728.2" r="165.1" stroke="#666" stroke-width="1"/>
<g stroke="#808080" stroke-width="2">
<g transform="translate(1586.8,563.1) rotate(0.0)"><circle r="20.2"/><circle r="9.9"/><path d="M-15 0H15M0 -17V17" stroke-width="0.9" stroke="#666"/></g>
<g transform="translate(1650.0,575.6) rotate(22.5)"><circle r="20.2"/><circle r="9.9"/><path d="M-15 0H15M0 -17V17" stroke-width="0.9" stroke="#666"/></g>
<g transform="translate(1703.6,611.4) rotate(45.0)"><circle r="20.2"/><circle r="9.9"/><path d="M-15 0H15M0 -17V17" stroke-width="0.9" stroke="#666"/></g>
<g transform="translate(1739.4,665.0) rotate(67.5)"><circle r="20.2"/><circle r="9.9"/><path d="M-15 0H15M0 -17V17" stroke-width="0.9" stroke="#666"/></g>
<g transform="translate(1751.9,728.2) rotate(90.0)"><circle r="20.2"/><circle r="9.9"/><path d="M-15 0H15M0 -17V17" stroke-width="0.9" stroke="#666"/></g>
<g transform="translate(1739.4,791.4) rotate(112.5)"><circle r="20.2"/><circle r="9.9"/><path d="M-15 0H15M0 -17V17" stroke-width="0.9" stroke="#666"/></g>
<g transform="translate(1703.6,845.0) rotate(135.0)"><circle r="20.2"/><circle r="9.9"/><path d="M-15 0H15M0 -17V17" stroke-width="0.9" stroke="#666"/></g>
<g transform="translate(1650.0,880.8) rotate(157.5)"><circle r="20.2"/><circle r="9.9"/><path d="M-15 0H15M0 -17V17" stroke-width="0.9" stroke="#666"/></g>
<g transform="translate(1586.8,893.3) rotate(180.0)"><circle r="20.2"/><circle r="9.9"/><path d="M-15 0H15M0 -17V17" stroke-width="0.9" stroke="#666"/></g>
<g transform="translate(1523.6,880.8) rotate(202.5)"><circle r="20.2"/><circle r="9.9"/><path d="M-15 0H15M0 -17V17" stroke-width="0.9" stroke="#666"/></g>
<g transform="translate(1470.0,845.0) rotate(225.0)"><circle r="20.2"/><circle r="9.9"/><path d="M-15 0H15M0 -17V17" stroke-width="0.9" stroke="#666"/></g>
<g transform="translate(1434.2,791.4) rotate(247.5)"><circle r="20.2"/><circle r="9.9"/><path d="M-15 0H15M0 -17V17" stroke-width="0.9" stroke="#666"/></g>
<g transform="translate(1421.7,728.2) rotate(270.0)"><circle r="20.2"/><circle r="9.9"/><path d="M-15 0H15M0 -17V17" stroke-width="0.9" stroke="#666"/></g>
<g transform="translate(1434.2,665.0) rotate(292.5)"><circle r="20.2"/><circle r="9.9"/><path d="M-15 0H15M0 -17V17" stroke-width="0.9" stroke="#666"/></g>
<g transform="translate(1470.0,611.4) rotate(315.0)"><circle r="20.2"/><circle r="9.9"/><path d="M-15 0H15M0 -17V17" stroke-width="0.9" stroke="#666"/></g>
<g transform="translate(1523.6,575.6) rotate(337.5)"><circle r="20.2"/><circle r="9.9"/><path d="M-15 0H15M0 -17V17" stroke-width="0.9" stroke="#666"/></g>
</g>
<g transform="translate(1476.6,573.0)"><path d="M-17 0H17M0 -17V17" stroke="#777" stroke-width="0.9"/><circle r="8.3" stroke="#000" stroke-width="1.9"/></g>
<g transform="translate(1476.6,651.8)"><path d="M-17 0H17M0 -17V17" stroke="#777" stroke-width="0.9"/><circle r="8.3" stroke="#000" stroke-width="1.9"/></g>
<g transform="translate(1476.6,804.6)"><path d="M-17 0H17M0 -17V17" stroke="#777" stroke-width="0.9"/><circle r="8.3" stroke="#000" stroke-width="1.9"/></g>
<g transform="translate(1476.6,883.4)"><path d="M-17 0H17M0 -17V17" stroke="#777" stroke-width="0.9"/><circle r="8.3" stroke="#000" stroke-width="1.9"/></g>
<g transform="translate(1696.8,573.0)"><path d="M-17 0H17M0 -17V17" stroke="#777" stroke-width="0.9"/><circle r="8.3" stroke="#000" stroke-width="1.9"/></g>
<g transform="translate(1696.8,651.8)"><path d="M-17 0H17M0 -17V17" stroke="#777" stroke-width="0.9"/><circle r="8.3" stroke="#000" stroke-width="1.9"/></g>
<g transform="translate(1696.8,804.6)"><path d="M-17 0H17M0 -17V17" stroke="#777" stroke-width="0.9"/><circle r="8.3" stroke="#000" stroke-width="1.9"/></g>
<g transform="translate(1696.8,883.4)"><path d="M-17 0H17M0 -17V17" stroke="#777" stroke-width="0.9"/><circle r="8.3" stroke="#000" stroke-width="1.9"/></g>
<!-- dims -->
<g stroke="#000" stroke-width="2" stroke-linecap="butt">
<path d="M1476.6 377.6V556M1696.8 377.6V547.5M1586.9 409V489.7"/>
<path d="M1476.6 383.2H1696.8M1476.6 414.6H1586.9" stroke-width="1.8"/>
<path d="M1276.3 573H1459.8M1276.3 883.4H1459.8M1308.5 651.8H1459M1308.5 804.6H1459.8"/>
<path d="M1281.1 573V883.4M1313.9 651.8V804.6" stroke-width="1.8"/>
<path d="M1705.5 886.7L1765.9 911.5H1814" stroke-width="1.9"/>
</g>
<g fill="#777">
<path d="M1477.6 383.2l9 -1.3v2.6zM1695.8 383.2l-9 -1.3v2.6zM1477.6 414.6l9 -1.3v2.6zM1585.9 414.6l-9 -1.3v2.6z"/>
<path d="M1281.1 574l-1.3 9h2.6zM1281.1 727.2l-1.3 -9h2.6zM1281.1 729.2l-1.3 9h2.6zM1281.1 882.4l-1.3 -9h2.6zM1313.9 652.8l-1.3 9h2.6zM1313.9 727.2l-1.3 -9h2.6zM1313.9 729.2l-1.3 9h2.6zM1313.9 803.6l-1.3 -9h2.6z"/>
</g>
<g fill="#000" font-size="14.5" text-anchor="middle">
<text transform="translate(1587.1,381.2) scale(0.781,1)">180</text>
<text transform="translate(1532,412.4) scale(0.843,1)">90</text>
<text transform="translate(1276.9,651.6) rotate(-90) scale(0.717,1)">127.5</text>
<text transform="translate(1276.9,805.6) rotate(-90) scale(0.717,1)">127.5</text>
<text transform="translate(1309.5,690.9) rotate(-90) scale(0.849,1)">62.5</text>
<text transform="translate(1309.5,766.3) rotate(-90) scale(0.849,1)">62.5</text>
<text transform="translate(1791,908.9) scale(0.685,1)">M16(x8)</text>
</g>
</g>
</svg>
<div class="t" id="h1" style="left:134px;top:70.3px;font-size:26.25px;font-weight:bold;">SAMPLER, RC / SACATEST., RC</div>
<div class="t" id="h2" style="left:1013px;top:71.8px;font-size:26.25px;font-weight:bold;">-</div>
<div class="t" id="h3" style="right:100px;top:70.3px;font-size:26.25px;font-weight:bold;">CONE, BASIC</div>
<div class="t" id="cap" style="left:656px;top:1080px;font-size:35px;transform:scaleY(1.045);transform-origin:0 82%;">Maximum total sampler weight allowed is 410 Kg.</div>
<div class="t" id="pn" style="right:129px;top:1120.3px;font-size:24.5px;transform:scaleY(1.045);transform-origin:0 82%;">1250 0213 41</div>
<div class="t" id="f1" style="left:134.5px;top:1315.2px;font-size:23.66px;transform:scaleY(1.045);transform-origin:0 82%;">32223441&nbsp;&nbsp;59_20160113073900</div>
<div class="t" id="f2" style="left:974px;top:1315.3px;font-size:23.9px;transform:scaleY(1.045);transform-origin:0 82%;">1592</div>
<div class="t" id="wm" style="left:58px;top:1306.5px;font-size:62.3px;">by AtlasCopco</div>
</body></html>
